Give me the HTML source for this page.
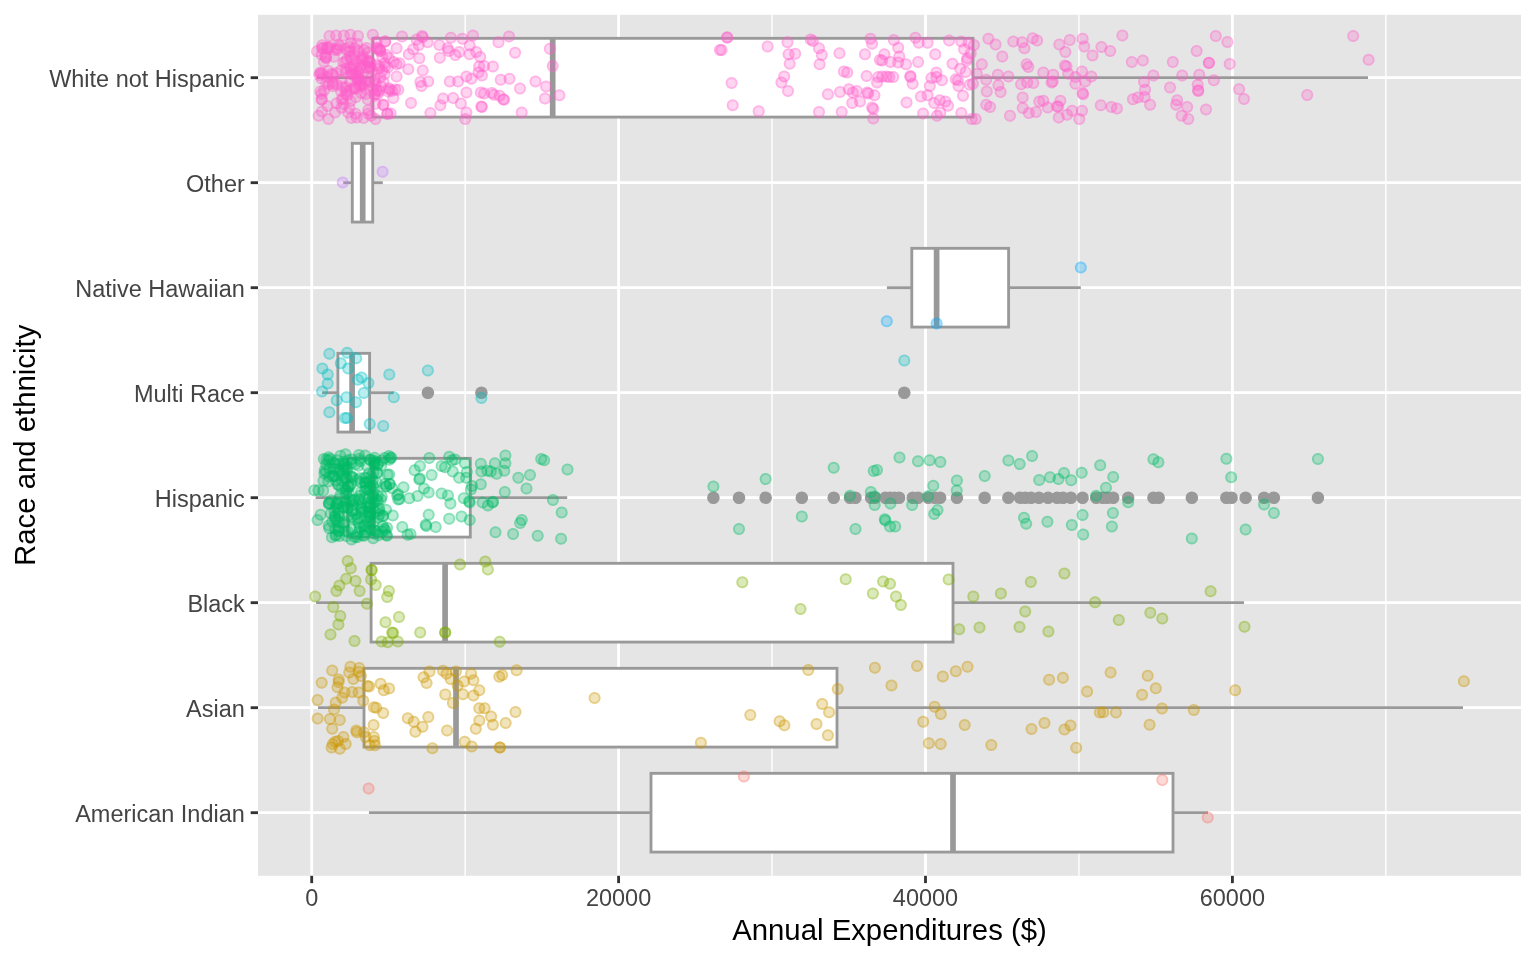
<!DOCTYPE html>
<html><head><meta charset="utf-8"><title>Annual Expenditures by Race and ethnicity</title>
<style>
html,body{margin:0;padding:0;background:#FFFFFF;width:1536px;height:960px;overflow:hidden}
svg{display:block;will-change:transform}
.t{font-family:"Liberation Sans",sans-serif;font-size:23.47px;fill:#444444}
.ti{font-family:"Liberation Sans",sans-serif;font-size:29.33px;fill:#000000}
</style></head><body>
<svg width="1536" height="960" viewBox="0 0 1536 960">
<rect x="0" y="0" width="1536" height="960" fill="#FFFFFF"/>
<rect x="258" y="14.8" width="1263" height="861.0" fill="#E5E5E5"/>
<line x1="465.15" y1="14.8" x2="465.15" y2="875.8" stroke="#FFFFFF" stroke-width="1.42"/>
<line x1="772.05" y1="14.8" x2="772.05" y2="875.8" stroke="#FFFFFF" stroke-width="1.42"/>
<line x1="1078.95" y1="14.8" x2="1078.95" y2="875.8" stroke="#FFFFFF" stroke-width="1.42"/>
<line x1="1385.85" y1="14.8" x2="1385.85" y2="875.8" stroke="#FFFFFF" stroke-width="1.42"/>
<line x1="311.70" y1="14.8" x2="311.70" y2="875.8" stroke="#FFFFFF" stroke-width="2.84"/>
<line x1="618.60" y1="14.8" x2="618.60" y2="875.8" stroke="#FFFFFF" stroke-width="2.84"/>
<line x1="925.50" y1="14.8" x2="925.50" y2="875.8" stroke="#FFFFFF" stroke-width="2.84"/>
<line x1="1232.40" y1="14.8" x2="1232.40" y2="875.8" stroke="#FFFFFF" stroke-width="2.84"/>
<line x1="258" y1="77.7" x2="1521" y2="77.7" stroke="#FFFFFF" stroke-width="2.84"/>
<line x1="258" y1="182.7" x2="1521" y2="182.7" stroke="#FFFFFF" stroke-width="2.84"/>
<line x1="258" y1="287.7" x2="1521" y2="287.7" stroke="#FFFFFF" stroke-width="2.84"/>
<line x1="258" y1="392.7" x2="1521" y2="392.7" stroke="#FFFFFF" stroke-width="2.84"/>
<line x1="258" y1="497.7" x2="1521" y2="497.7" stroke="#FFFFFF" stroke-width="2.84"/>
<line x1="258" y1="602.7" x2="1521" y2="602.7" stroke="#FFFFFF" stroke-width="2.84"/>
<line x1="258" y1="707.7" x2="1521" y2="707.7" stroke="#FFFFFF" stroke-width="2.84"/>
<line x1="258" y1="812.7" x2="1521" y2="812.7" stroke="#FFFFFF" stroke-width="2.84"/>
<line x1="316.7" y1="77.7" x2="372.9" y2="77.7" stroke="#999999" stroke-width="2.84"/>
<line x1="973.0" y1="77.7" x2="1368.0" y2="77.7" stroke="#999999" stroke-width="2.84"/>
<rect x="372.9" y="38.325" width="600.10" height="78.75" fill="#FFFFFF" stroke="#999999" stroke-width="2.84"/>
<line x1="552.7" y1="38.325" x2="552.7" y2="117.075" stroke="#999999" stroke-width="5.68"/>
<line x1="343.2" y1="182.7" x2="352.3" y2="182.7" stroke="#999999" stroke-width="2.84"/>
<line x1="372.7" y1="182.7" x2="382.8" y2="182.7" stroke="#999999" stroke-width="2.84"/>
<rect x="352.3" y="143.325" width="20.40" height="78.75" fill="#FFFFFF" stroke="#999999" stroke-width="2.84"/>
<line x1="362.7" y1="143.325" x2="362.7" y2="222.075" stroke="#999999" stroke-width="5.68"/>
<line x1="886.9" y1="287.7" x2="911.8" y2="287.7" stroke="#999999" stroke-width="2.84"/>
<line x1="1008.6" y1="287.7" x2="1080.8" y2="287.7" stroke="#999999" stroke-width="2.84"/>
<rect x="911.8" y="248.325" width="96.80" height="78.75" fill="#FFFFFF" stroke="#999999" stroke-width="2.84"/>
<line x1="936.6" y1="248.325" x2="936.6" y2="327.075" stroke="#999999" stroke-width="5.68"/>
<line x1="322.1" y1="392.7" x2="337.9" y2="392.7" stroke="#999999" stroke-width="2.84"/>
<line x1="369.6" y1="392.7" x2="393.75" y2="392.7" stroke="#999999" stroke-width="2.84"/>
<rect x="337.9" y="353.325" width="31.70" height="78.75" fill="#FFFFFF" stroke="#999999" stroke-width="2.84"/>
<line x1="352.1" y1="353.325" x2="352.1" y2="432.075" stroke="#999999" stroke-width="5.68"/>
<circle cx="427.9" cy="392.7" r="5.6" fill="#999999" stroke="#999999" stroke-width="1.4"/>
<circle cx="481.4" cy="392.7" r="5.6" fill="#999999" stroke="#999999" stroke-width="1.4"/>
<circle cx="904.3" cy="392.7" r="5.6" fill="#999999" stroke="#999999" stroke-width="1.4"/>
<line x1="315.6" y1="497.7" x2="347.9" y2="497.7" stroke="#999999" stroke-width="2.84"/>
<line x1="470.3" y1="497.7" x2="567.2" y2="497.7" stroke="#999999" stroke-width="2.84"/>
<rect x="347.9" y="458.325" width="122.40" height="78.75" fill="#FFFFFF" stroke="#999999" stroke-width="2.84"/>
<line x1="372.7" y1="458.325" x2="372.7" y2="537.075" stroke="#999999" stroke-width="5.68"/>
<circle cx="713.4" cy="497.7" r="5.6" fill="#999999" stroke="#999999" stroke-width="1.4"/>
<circle cx="739.0" cy="497.7" r="5.6" fill="#999999" stroke="#999999" stroke-width="1.4"/>
<circle cx="765.625" cy="497.7" r="5.6" fill="#999999" stroke="#999999" stroke-width="1.4"/>
<circle cx="801.8229166666666" cy="497.7" r="5.6" fill="#999999" stroke="#999999" stroke-width="1.4"/>
<circle cx="833.7239583333334" cy="497.7" r="5.6" fill="#999999" stroke="#999999" stroke-width="1.4"/>
<circle cx="850.0" cy="497.7" r="5.6" fill="#999999" stroke="#999999" stroke-width="1.4"/>
<circle cx="855.46875" cy="497.7" r="5.6" fill="#999999" stroke="#999999" stroke-width="1.4"/>
<circle cx="871.09375" cy="497.7" r="5.6" fill="#999999" stroke="#999999" stroke-width="1.4"/>
<circle cx="875.0" cy="497.7" r="5.6" fill="#999999" stroke="#999999" stroke-width="1.4"/>
<circle cx="885.4166666666667" cy="497.7" r="5.6" fill="#999999" stroke="#999999" stroke-width="1.4"/>
<circle cx="889.9739583333334" cy="497.7" r="5.6" fill="#999999" stroke="#999999" stroke-width="1.4"/>
<circle cx="894.53125" cy="497.7" r="5.6" fill="#999999" stroke="#999999" stroke-width="1.4"/>
<circle cx="899.0885416666667" cy="497.7" r="5.6" fill="#999999" stroke="#999999" stroke-width="1.4"/>
<circle cx="912.7604166666667" cy="497.7" r="5.6" fill="#999999" stroke="#999999" stroke-width="1.4"/>
<circle cx="917.96875" cy="497.7" r="5.6" fill="#999999" stroke="#999999" stroke-width="1.4"/>
<circle cx="928.3854166666667" cy="497.7" r="5.6" fill="#999999" stroke="#999999" stroke-width="1.4"/>
<circle cx="934.8958333333334" cy="497.7" r="5.6" fill="#999999" stroke="#999999" stroke-width="1.4"/>
<circle cx="940.1041666666667" cy="497.7" r="5.6" fill="#999999" stroke="#999999" stroke-width="1.4"/>
<circle cx="956.9270833333334" cy="497.7" r="5.6" fill="#999999" stroke="#999999" stroke-width="1.4"/>
<circle cx="984.6614583333334" cy="497.7" r="5.6" fill="#999999" stroke="#999999" stroke-width="1.4"/>
<circle cx="1008.359375" cy="497.7" r="5.6" fill="#999999" stroke="#999999" stroke-width="1.4"/>
<circle cx="1020.078125" cy="497.7" r="5.6" fill="#999999" stroke="#999999" stroke-width="1.4"/>
<circle cx="1025.2864583333333" cy="497.7" r="5.6" fill="#999999" stroke="#999999" stroke-width="1.4"/>
<circle cx="1031.1458333333333" cy="497.7" r="5.6" fill="#999999" stroke="#999999" stroke-width="1.4"/>
<circle cx="1038.9583333333333" cy="497.7" r="5.6" fill="#999999" stroke="#999999" stroke-width="1.4"/>
<circle cx="1048.0729166666667" cy="497.7" r="5.6" fill="#999999" stroke="#999999" stroke-width="1.4"/>
<circle cx="1057.1875" cy="497.7" r="5.6" fill="#999999" stroke="#999999" stroke-width="1.4"/>
<circle cx="1063.046875" cy="497.7" r="5.6" fill="#999999" stroke="#999999" stroke-width="1.4"/>
<circle cx="1070.859375" cy="497.7" r="5.6" fill="#999999" stroke="#999999" stroke-width="1.4"/>
<circle cx="1082.578125" cy="497.7" r="5.6" fill="#999999" stroke="#999999" stroke-width="1.4"/>
<circle cx="1096.25" cy="497.7" r="5.6" fill="#999999" stroke="#999999" stroke-width="1.4"/>
<circle cx="1102.7604166666667" cy="497.7" r="5.6" fill="#999999" stroke="#999999" stroke-width="1.4"/>
<circle cx="1107.3177083333333" cy="497.7" r="5.6" fill="#999999" stroke="#999999" stroke-width="1.4"/>
<circle cx="1113.1770833333333" cy="497.7" r="5.6" fill="#999999" stroke="#999999" stroke-width="1.4"/>
<circle cx="1128.1510416666667" cy="497.7" r="5.6" fill="#999999" stroke="#999999" stroke-width="1.4"/>
<circle cx="1153.4375" cy="497.7" r="5.6" fill="#999999" stroke="#999999" stroke-width="1.4"/>
<circle cx="1158.6458333333333" cy="497.7" r="5.6" fill="#999999" stroke="#999999" stroke-width="1.4"/>
<circle cx="1191.8489583333333" cy="497.7" r="5.6" fill="#999999" stroke="#999999" stroke-width="1.4"/>
<circle cx="1226.3541666666667" cy="497.7" r="5.6" fill="#999999" stroke="#999999" stroke-width="1.4"/>
<circle cx="1231.5625" cy="497.7" r="5.6" fill="#999999" stroke="#999999" stroke-width="1.4"/>
<circle cx="1245.625" cy="497.7" r="5.6" fill="#999999" stroke="#999999" stroke-width="1.4"/>
<circle cx="1264.1145833333333" cy="497.7" r="5.6" fill="#999999" stroke="#999999" stroke-width="1.4"/>
<circle cx="1273.8802083333333" cy="497.7" r="5.6" fill="#999999" stroke="#999999" stroke-width="1.4"/>
<circle cx="1317.890625" cy="497.7" r="5.6" fill="#999999" stroke="#999999" stroke-width="1.4"/>
<line x1="316.1" y1="602.7" x2="371.1" y2="602.7" stroke="#999999" stroke-width="2.84"/>
<line x1="953.0" y1="602.7" x2="1244.0" y2="602.7" stroke="#999999" stroke-width="2.84"/>
<rect x="371.1" y="563.325" width="581.90" height="78.75" fill="#FFFFFF" stroke="#999999" stroke-width="2.84"/>
<line x1="445.1" y1="563.325" x2="445.1" y2="642.075" stroke="#999999" stroke-width="5.68"/>
<line x1="318.0" y1="707.7" x2="364.0" y2="707.7" stroke="#999999" stroke-width="2.84"/>
<line x1="837.0" y1="707.7" x2="1463.0" y2="707.7" stroke="#999999" stroke-width="2.84"/>
<rect x="364.0" y="668.325" width="473.00" height="78.75" fill="#FFFFFF" stroke="#999999" stroke-width="2.84"/>
<line x1="456.0" y1="668.325" x2="456.0" y2="747.075" stroke="#999999" stroke-width="5.68"/>
<line x1="369.0" y1="812.7" x2="651.0" y2="812.7" stroke="#999999" stroke-width="2.84"/>
<line x1="1173.0" y1="812.7" x2="1208.0" y2="812.7" stroke="#999999" stroke-width="2.84"/>
<rect x="651.0" y="773.325" width="522.00" height="78.75" fill="#FFFFFF" stroke="#999999" stroke-width="2.84"/>
<line x1="953.0" y1="773.325" x2="953.0" y2="852.075" stroke="#999999" stroke-width="5.68"/>
<g fill="#FF61CC" fill-opacity="0.27">
<circle cx="329.5" cy="35.9" r="6.0"/>
<circle cx="336.1" cy="35.4" r="6.0"/>
<circle cx="343.8" cy="35.4" r="6.0"/>
<circle cx="350.3" cy="34.8" r="6.0"/>
<circle cx="358.0" cy="35.9" r="6.0"/>
<circle cx="372.8" cy="34.8" r="6.0"/>
<circle cx="317.0" cy="51.3" r="6.0"/>
<circle cx="321.9" cy="48.0" r="6.0"/>
<circle cx="329.5" cy="46.9" r="6.0"/>
<circle cx="338.3" cy="44.7" r="6.0"/>
<circle cx="349.2" cy="46.9" r="6.0"/>
<circle cx="354.7" cy="48.0" r="6.0"/>
<circle cx="367.8" cy="52.4" r="6.0"/>
<circle cx="326.3" cy="57.8" r="6.0"/>
<circle cx="333.9" cy="56.7" r="6.0"/>
<circle cx="350.3" cy="56.7" r="6.0"/>
<circle cx="361.3" cy="57.8" r="6.0"/>
<circle cx="367.8" cy="62.2" r="6.0"/>
<circle cx="320.8" cy="73.1" r="6.0"/>
<circle cx="328.4" cy="71.0" r="6.0"/>
<circle cx="336.1" cy="73.1" r="6.0"/>
<circle cx="346.0" cy="68.8" r="6.0"/>
<circle cx="353.6" cy="66.6" r="6.0"/>
<circle cx="361.3" cy="65.5" r="6.0"/>
<circle cx="368.9" cy="68.8" r="6.0"/>
<circle cx="326.3" cy="83.0" r="6.0"/>
<circle cx="332.8" cy="81.9" r="6.0"/>
<circle cx="341.6" cy="79.7" r="6.0"/>
<circle cx="350.3" cy="81.9" r="6.0"/>
<circle cx="358.0" cy="79.7" r="6.0"/>
<circle cx="365.6" cy="80.8" r="6.0"/>
<circle cx="374.4" cy="80.8" r="6.0"/>
<circle cx="324.1" cy="90.6" r="6.0"/>
<circle cx="332.8" cy="86.3" r="6.0"/>
<circle cx="346.0" cy="87.4" r="6.0"/>
<circle cx="354.7" cy="88.5" r="6.0"/>
<circle cx="365.6" cy="88.5" r="6.0"/>
<circle cx="376.6" cy="90.6" r="6.0"/>
<circle cx="321.9" cy="99.4" r="6.0"/>
<circle cx="341.6" cy="99.4" r="6.0"/>
<circle cx="355.8" cy="97.2" r="6.0"/>
<circle cx="367.8" cy="99.4" r="6.0"/>
<circle cx="375.5" cy="103.8" r="6.0"/>
<circle cx="327.4" cy="106.0" r="6.0"/>
<circle cx="318.6" cy="115.8" r="6.0"/>
<circle cx="321.9" cy="111.4" r="6.0"/>
<circle cx="328.4" cy="119.1" r="6.0"/>
<circle cx="335.0" cy="112.5" r="6.0"/>
<circle cx="348.1" cy="112.5" r="6.0"/>
<circle cx="351.4" cy="118.0" r="6.0"/>
<circle cx="363.5" cy="118.0" r="6.0"/>
<circle cx="371.1" cy="115.8" r="6.0"/>
<circle cx="375.5" cy="119.1" r="6.0"/>
<circle cx="385.3" cy="41.4" r="6.0"/>
<circle cx="378.8" cy="49.1" r="6.0"/>
<circle cx="383.2" cy="104.9" r="6.0"/>
<circle cx="387.5" cy="113.6" r="6.0"/>
<circle cx="378.8" cy="68.8" r="6.0"/>
<circle cx="385.3" cy="66.6" r="6.0"/>
<circle cx="385.1" cy="41.4" r="6.0"/>
<circle cx="376.9" cy="48.5" r="6.0"/>
<circle cx="380.1" cy="51.2" r="6.0"/>
<circle cx="382.3" cy="56.7" r="6.0"/>
<circle cx="388.9" cy="57.8" r="6.0"/>
<circle cx="384.5" cy="63.3" r="6.0"/>
<circle cx="379.0" cy="66.5" r="6.0"/>
<circle cx="387.8" cy="67.6" r="6.0"/>
<circle cx="382.3" cy="70.9" r="6.0"/>
<circle cx="384.5" cy="74.2" r="6.0"/>
<circle cx="380.1" cy="77.5" r="6.0"/>
<circle cx="374.7" cy="79.6" r="6.0"/>
<circle cx="383.4" cy="81.8" r="6.0"/>
<circle cx="381.2" cy="86.2" r="6.0"/>
<circle cx="376.9" cy="90.6" r="6.0"/>
<circle cx="378.0" cy="93.9" r="6.0"/>
<circle cx="383.4" cy="104.8" r="6.0"/>
<circle cx="387.2" cy="114.1" r="6.0"/>
<circle cx="337.4" cy="50.1" r="6.0"/>
<circle cx="357.1" cy="43.8" r="6.0"/>
<circle cx="350.2" cy="67.3" r="6.0"/>
<circle cx="321.5" cy="78.6" r="6.0"/>
<circle cx="320.2" cy="72.7" r="6.0"/>
<circle cx="322.2" cy="45.3" r="6.0"/>
<circle cx="343.5" cy="104.1" r="6.0"/>
<circle cx="325.4" cy="55.9" r="6.0"/>
<circle cx="355.6" cy="113.8" r="6.0"/>
<circle cx="352.6" cy="69.7" r="6.0"/>
<circle cx="376.6" cy="41.7" r="6.0"/>
<circle cx="369.5" cy="61.2" r="6.0"/>
<circle cx="326.7" cy="47.4" r="6.0"/>
<circle cx="336.5" cy="103.3" r="6.0"/>
<circle cx="328.8" cy="84.5" r="6.0"/>
<circle cx="356.3" cy="67.8" r="6.0"/>
<circle cx="350.9" cy="43.0" r="6.0"/>
<circle cx="321.6" cy="54.5" r="6.0"/>
<circle cx="358.8" cy="72.2" r="6.0"/>
<circle cx="336.8" cy="84.8" r="6.0"/>
<circle cx="345.2" cy="62.0" r="6.0"/>
<circle cx="365.7" cy="93.9" r="6.0"/>
<circle cx="332.6" cy="84.0" r="6.0"/>
<circle cx="349.5" cy="108.0" r="6.0"/>
<circle cx="361.8" cy="61.0" r="6.0"/>
<circle cx="376.8" cy="47.4" r="6.0"/>
<circle cx="343.1" cy="98.6" r="6.0"/>
<circle cx="327.1" cy="77.1" r="6.0"/>
<circle cx="320.4" cy="91.5" r="6.0"/>
<circle cx="363.9" cy="83.8" r="6.0"/>
<circle cx="370.5" cy="63.1" r="6.0"/>
<circle cx="359.7" cy="85.5" r="6.0"/>
<circle cx="352.8" cy="74.5" r="6.0"/>
<circle cx="368.4" cy="113.6" r="6.0"/>
<circle cx="346.4" cy="91.1" r="6.0"/>
<circle cx="321.6" cy="94.1" r="6.0"/>
<circle cx="356.8" cy="117.4" r="6.0"/>
<circle cx="367.3" cy="60.8" r="6.0"/>
<circle cx="341.1" cy="91.5" r="6.0"/>
<circle cx="319.4" cy="74.9" r="6.0"/>
<circle cx="328.1" cy="47.4" r="6.0"/>
<circle cx="321.5" cy="99.5" r="6.0"/>
<circle cx="325.8" cy="57.8" r="6.0"/>
<circle cx="341.5" cy="107.7" r="6.0"/>
<circle cx="322.8" cy="73.9" r="6.0"/>
<circle cx="355.8" cy="74.9" r="6.0"/>
<circle cx="372.3" cy="70.4" r="6.0"/>
<circle cx="357.8" cy="76.2" r="6.0"/>
<circle cx="346.5" cy="72.6" r="6.0"/>
<circle cx="362.0" cy="86.1" r="6.0"/>
<circle cx="343.3" cy="62.6" r="6.0"/>
<circle cx="343.2" cy="86.9" r="6.0"/>
<circle cx="364.3" cy="50.0" r="6.0"/>
<circle cx="374.4" cy="94.3" r="6.0"/>
<circle cx="362.9" cy="77.5" r="6.0"/>
<circle cx="345.5" cy="48.7" r="6.0"/>
<circle cx="358.5" cy="50.9" r="6.0"/>
<circle cx="346.7" cy="59.6" r="6.0"/>
<circle cx="341.1" cy="70.3" r="6.0"/>
<circle cx="355.4" cy="88.4" r="6.0"/>
<circle cx="358.2" cy="78.7" r="6.0"/>
<circle cx="357.5" cy="79.8" r="6.0"/>
<circle cx="356.0" cy="61.4" r="6.0"/>
<circle cx="374.9" cy="95.8" r="6.0"/>
<circle cx="369.4" cy="82.0" r="6.0"/>
<circle cx="351.0" cy="59.0" r="6.0"/>
<circle cx="350.1" cy="51.4" r="6.0"/>
<circle cx="366.8" cy="67.2" r="6.0"/>
<circle cx="369.6" cy="66.6" r="6.0"/>
<circle cx="373.5" cy="88.7" r="6.0"/>
<circle cx="402.0" cy="36.6" r="6.0"/>
<circle cx="416.6" cy="39.4" r="6.0"/>
<circle cx="422.1" cy="36.1" r="6.0"/>
<circle cx="422.7" cy="37.2" r="6.0"/>
<circle cx="427.6" cy="42.2" r="6.0"/>
<circle cx="450.9" cy="37.7" r="6.0"/>
<circle cx="462.5" cy="38.8" r="6.0"/>
<circle cx="473.0" cy="35.5" r="6.0"/>
<circle cx="498.5" cy="42.2" r="6.0"/>
<circle cx="509.0" cy="36.6" r="6.0"/>
<circle cx="396.6" cy="48.2" r="6.0"/>
<circle cx="408.8" cy="54.3" r="6.0"/>
<circle cx="413.2" cy="49.3" r="6.0"/>
<circle cx="418.8" cy="44.9" r="6.0"/>
<circle cx="419.3" cy="58.2" r="6.0"/>
<circle cx="439.3" cy="44.9" r="6.0"/>
<circle cx="439.8" cy="57.7" r="6.0"/>
<circle cx="447.6" cy="48.2" r="6.0"/>
<circle cx="448.7" cy="51.0" r="6.0"/>
<circle cx="455.3" cy="54.9" r="6.0"/>
<circle cx="459.2" cy="52.1" r="6.0"/>
<circle cx="469.7" cy="45.5" r="6.0"/>
<circle cx="469.7" cy="54.3" r="6.0"/>
<circle cx="476.3" cy="52.1" r="6.0"/>
<circle cx="480.2" cy="57.1" r="6.0"/>
<circle cx="515.1" cy="52.7" r="6.0"/>
<circle cx="549.9" cy="48.8" r="6.0"/>
<circle cx="396.6" cy="64.3" r="6.0"/>
<circle cx="408.3" cy="69.3" r="6.0"/>
<circle cx="422.7" cy="70.4" r="6.0"/>
<circle cx="479.1" cy="66.5" r="6.0"/>
<circle cx="484.1" cy="66.0" r="6.0"/>
<circle cx="492.9" cy="66.5" r="6.0"/>
<circle cx="552.7" cy="66.0" r="6.0"/>
<circle cx="396.6" cy="76.5" r="6.0"/>
<circle cx="420.4" cy="82.0" r="6.0"/>
<circle cx="428.2" cy="81.4" r="6.0"/>
<circle cx="421.5" cy="85.9" r="6.0"/>
<circle cx="449.8" cy="81.4" r="6.0"/>
<circle cx="458.1" cy="81.4" r="6.0"/>
<circle cx="466.4" cy="76.5" r="6.0"/>
<circle cx="471.4" cy="78.7" r="6.0"/>
<circle cx="478.5" cy="72.6" r="6.0"/>
<circle cx="481.9" cy="75.4" r="6.0"/>
<circle cx="500.7" cy="79.8" r="6.0"/>
<circle cx="509.5" cy="78.7" r="6.0"/>
<circle cx="535.5" cy="81.4" r="6.0"/>
<circle cx="546.1" cy="86.4" r="6.0"/>
<circle cx="520.0" cy="88.6" r="6.0"/>
<circle cx="393.3" cy="98.0" r="6.0"/>
<circle cx="411.0" cy="103.0" r="6.0"/>
<circle cx="443.1" cy="98.6" r="6.0"/>
<circle cx="440.4" cy="105.2" r="6.0"/>
<circle cx="453.1" cy="98.0" r="6.0"/>
<circle cx="460.8" cy="103.6" r="6.0"/>
<circle cx="466.4" cy="92.5" r="6.0"/>
<circle cx="480.8" cy="92.5" r="6.0"/>
<circle cx="484.1" cy="93.6" r="6.0"/>
<circle cx="491.8" cy="93.1" r="6.0"/>
<circle cx="494.0" cy="94.7" r="6.0"/>
<circle cx="499.6" cy="95.8" r="6.0"/>
<circle cx="503.4" cy="99.2" r="6.0"/>
<circle cx="504.0" cy="99.7" r="6.0"/>
<circle cx="481.3" cy="106.4" r="6.0"/>
<circle cx="481.9" cy="106.9" r="6.0"/>
<circle cx="545.0" cy="98.6" r="6.0"/>
<circle cx="390.6" cy="113.5" r="6.0"/>
<circle cx="430.4" cy="113.0" r="6.0"/>
<circle cx="466.4" cy="112.4" r="6.0"/>
<circle cx="465.3" cy="119.1" r="6.0"/>
<circle cx="521.7" cy="112.4" r="6.0"/>
<circle cx="559.4" cy="95.3" r="6.0"/>
<circle cx="719.9" cy="49.9" r="6.0"/>
<circle cx="727.2" cy="37.2" r="6.0"/>
<circle cx="727.2" cy="37.7" r="6.0"/>
<circle cx="721.6" cy="49.9" r="6.0"/>
<circle cx="767.6" cy="46.6" r="6.0"/>
<circle cx="787.5" cy="42.2" r="6.0"/>
<circle cx="788.6" cy="54.3" r="6.0"/>
<circle cx="795.2" cy="53.8" r="6.0"/>
<circle cx="789.7" cy="63.7" r="6.0"/>
<circle cx="810.7" cy="39.4" r="6.0"/>
<circle cx="812.9" cy="41.0" r="6.0"/>
<circle cx="819.0" cy="48.2" r="6.0"/>
<circle cx="821.8" cy="54.9" r="6.0"/>
<circle cx="819.6" cy="64.3" r="6.0"/>
<circle cx="839.5" cy="53.2" r="6.0"/>
<circle cx="865.0" cy="54.3" r="6.0"/>
<circle cx="870.5" cy="38.8" r="6.0"/>
<circle cx="872.1" cy="43.8" r="6.0"/>
<circle cx="879.9" cy="59.9" r="6.0"/>
<circle cx="731.6" cy="83.1" r="6.0"/>
<circle cx="784.2" cy="76.5" r="6.0"/>
<circle cx="781.4" cy="82.6" r="6.0"/>
<circle cx="788.0" cy="90.9" r="6.0"/>
<circle cx="843.9" cy="71.5" r="6.0"/>
<circle cx="847.2" cy="72.6" r="6.0"/>
<circle cx="866.6" cy="75.9" r="6.0"/>
<circle cx="878.2" cy="77.0" r="6.0"/>
<circle cx="877.1" cy="82.6" r="6.0"/>
<circle cx="827.9" cy="94.2" r="6.0"/>
<circle cx="840.0" cy="92.0" r="6.0"/>
<circle cx="848.9" cy="89.2" r="6.0"/>
<circle cx="852.8" cy="92.5" r="6.0"/>
<circle cx="856.7" cy="90.9" r="6.0"/>
<circle cx="860.0" cy="101.4" r="6.0"/>
<circle cx="852.2" cy="103.0" r="6.0"/>
<circle cx="867.2" cy="92.5" r="6.0"/>
<circle cx="868.3" cy="93.6" r="6.0"/>
<circle cx="874.4" cy="95.3" r="6.0"/>
<circle cx="732.7" cy="105.2" r="6.0"/>
<circle cx="758.7" cy="111.3" r="6.0"/>
<circle cx="819.0" cy="111.9" r="6.0"/>
<circle cx="841.7" cy="111.9" r="6.0"/>
<circle cx="872.1" cy="107.5" r="6.0"/>
<circle cx="873.3" cy="109.1" r="6.0"/>
<circle cx="873.3" cy="118.5" r="6.0"/>
<circle cx="893.8" cy="39.9" r="6.0"/>
<circle cx="898.2" cy="47.7" r="6.0"/>
<circle cx="884.4" cy="54.3" r="6.0"/>
<circle cx="882.2" cy="60.4" r="6.0"/>
<circle cx="890.5" cy="62.1" r="6.0"/>
<circle cx="899.3" cy="56.5" r="6.0"/>
<circle cx="898.2" cy="62.6" r="6.0"/>
<circle cx="906.0" cy="64.3" r="6.0"/>
<circle cx="915.4" cy="37.7" r="6.0"/>
<circle cx="918.7" cy="42.7" r="6.0"/>
<circle cx="927.6" cy="42.7" r="6.0"/>
<circle cx="935.3" cy="54.3" r="6.0"/>
<circle cx="918.1" cy="62.1" r="6.0"/>
<circle cx="949.1" cy="40.5" r="6.0"/>
<circle cx="961.3" cy="41.6" r="6.0"/>
<circle cx="964.1" cy="49.3" r="6.0"/>
<circle cx="968.5" cy="42.7" r="6.0"/>
<circle cx="974.0" cy="44.9" r="6.0"/>
<circle cx="970.7" cy="53.2" r="6.0"/>
<circle cx="967.4" cy="58.2" r="6.0"/>
<circle cx="966.8" cy="60.4" r="6.0"/>
<circle cx="952.5" cy="63.7" r="6.0"/>
<circle cx="960.2" cy="68.7" r="6.0"/>
<circle cx="965.7" cy="72.0" r="6.0"/>
<circle cx="882.2" cy="76.5" r="6.0"/>
<circle cx="886.6" cy="76.5" r="6.0"/>
<circle cx="889.4" cy="77.0" r="6.0"/>
<circle cx="893.2" cy="77.0" r="6.0"/>
<circle cx="910.4" cy="75.9" r="6.0"/>
<circle cx="910.4" cy="77.0" r="6.0"/>
<circle cx="912.6" cy="83.7" r="6.0"/>
<circle cx="936.4" cy="72.6" r="6.0"/>
<circle cx="931.4" cy="78.1" r="6.0"/>
<circle cx="936.4" cy="77.0" r="6.0"/>
<circle cx="941.9" cy="80.3" r="6.0"/>
<circle cx="929.8" cy="85.9" r="6.0"/>
<circle cx="955.8" cy="79.2" r="6.0"/>
<circle cx="958.5" cy="85.9" r="6.0"/>
<circle cx="958.0" cy="80.3" r="6.0"/>
<circle cx="969.6" cy="84.8" r="6.0"/>
<circle cx="972.9" cy="83.7" r="6.0"/>
<circle cx="920.9" cy="96.4" r="6.0"/>
<circle cx="927.6" cy="95.3" r="6.0"/>
<circle cx="906.5" cy="102.5" r="6.0"/>
<circle cx="934.2" cy="103.0" r="6.0"/>
<circle cx="939.7" cy="100.3" r="6.0"/>
<circle cx="945.3" cy="101.4" r="6.0"/>
<circle cx="948.0" cy="105.8" r="6.0"/>
<circle cx="963.0" cy="95.8" r="6.0"/>
<circle cx="923.1" cy="113.5" r="6.0"/>
<circle cx="937.0" cy="115.8" r="6.0"/>
<circle cx="940.3" cy="112.4" r="6.0"/>
<circle cx="961.3" cy="113.0" r="6.0"/>
<circle cx="971.8" cy="119.1" r="6.0"/>
<circle cx="975.7" cy="119.1" r="6.0"/>
<circle cx="988.4" cy="38.8" r="6.0"/>
<circle cx="995.6" cy="44.4" r="6.0"/>
<circle cx="1013.3" cy="41.6" r="6.0"/>
<circle cx="1022.2" cy="42.2" r="6.0"/>
<circle cx="1024.4" cy="48.2" r="6.0"/>
<circle cx="1032.7" cy="38.3" r="6.0"/>
<circle cx="1037.1" cy="40.5" r="6.0"/>
<circle cx="1002.3" cy="56.5" r="6.0"/>
<circle cx="981.8" cy="64.3" r="6.0"/>
<circle cx="1026.6" cy="64.3" r="6.0"/>
<circle cx="1028.3" cy="67.1" r="6.0"/>
<circle cx="976.8" cy="73.7" r="6.0"/>
<circle cx="986.2" cy="79.8" r="6.0"/>
<circle cx="997.8" cy="74.8" r="6.0"/>
<circle cx="1008.4" cy="76.5" r="6.0"/>
<circle cx="998.4" cy="85.3" r="6.0"/>
<circle cx="1000.6" cy="92.0" r="6.0"/>
<circle cx="986.8" cy="91.4" r="6.0"/>
<circle cx="1021.1" cy="84.2" r="6.0"/>
<circle cx="1027.2" cy="82.6" r="6.0"/>
<circle cx="1033.3" cy="83.1" r="6.0"/>
<circle cx="1022.7" cy="97.5" r="6.0"/>
<circle cx="986.2" cy="104.7" r="6.0"/>
<circle cx="990.1" cy="106.9" r="6.0"/>
<circle cx="1022.7" cy="108.0" r="6.0"/>
<circle cx="1028.8" cy="113.0" r="6.0"/>
<circle cx="1036.0" cy="111.9" r="6.0"/>
<circle cx="1010.0" cy="115.8" r="6.0"/>
<circle cx="1039.3" cy="101.4" r="6.0"/>
<circle cx="1059.3" cy="44.4" r="6.0"/>
<circle cx="1069.8" cy="39.9" r="6.0"/>
<circle cx="1065.4" cy="52.1" r="6.0"/>
<circle cx="1082.6" cy="38.8" r="6.0"/>
<circle cx="1084.2" cy="46.6" r="6.0"/>
<circle cx="1092.5" cy="55.4" r="6.0"/>
<circle cx="1101.4" cy="47.1" r="6.0"/>
<circle cx="1110.2" cy="51.0" r="6.0"/>
<circle cx="1122.4" cy="35.5" r="6.0"/>
<circle cx="1131.8" cy="62.1" r="6.0"/>
<circle cx="1142.9" cy="60.4" r="6.0"/>
<circle cx="1172.8" cy="62.1" r="6.0"/>
<circle cx="1196.6" cy="51.0" r="6.0"/>
<circle cx="1043.3" cy="72.6" r="6.0"/>
<circle cx="1053.2" cy="74.8" r="6.0"/>
<circle cx="1052.7" cy="81.4" r="6.0"/>
<circle cx="1051.6" cy="82.6" r="6.0"/>
<circle cx="1064.9" cy="65.4" r="6.0"/>
<circle cx="1066.5" cy="66.5" r="6.0"/>
<circle cx="1068.2" cy="73.7" r="6.0"/>
<circle cx="1075.4" cy="77.0" r="6.0"/>
<circle cx="1075.4" cy="83.7" r="6.0"/>
<circle cx="1082.0" cy="71.5" r="6.0"/>
<circle cx="1085.3" cy="81.4" r="6.0"/>
<circle cx="1091.4" cy="76.5" r="6.0"/>
<circle cx="1082.6" cy="93.1" r="6.0"/>
<circle cx="1083.1" cy="94.2" r="6.0"/>
<circle cx="1153.4" cy="75.4" r="6.0"/>
<circle cx="1144.0" cy="82.0" r="6.0"/>
<circle cx="1145.1" cy="89.7" r="6.0"/>
<circle cx="1170.0" cy="87.5" r="6.0"/>
<circle cx="1182.2" cy="75.4" r="6.0"/>
<circle cx="1199.3" cy="74.8" r="6.0"/>
<circle cx="1197.7" cy="84.8" r="6.0"/>
<circle cx="1198.2" cy="90.3" r="6.0"/>
<circle cx="1198.2" cy="90.9" r="6.0"/>
<circle cx="1043.3" cy="100.8" r="6.0"/>
<circle cx="1047.7" cy="107.5" r="6.0"/>
<circle cx="1057.1" cy="106.4" r="6.0"/>
<circle cx="1060.4" cy="100.8" r="6.0"/>
<circle cx="1058.2" cy="106.4" r="6.0"/>
<circle cx="1072.1" cy="110.8" r="6.0"/>
<circle cx="1067.1" cy="114.7" r="6.0"/>
<circle cx="1058.8" cy="117.4" r="6.0"/>
<circle cx="1082.0" cy="110.8" r="6.0"/>
<circle cx="1079.3" cy="119.1" r="6.0"/>
<circle cx="1100.8" cy="105.2" r="6.0"/>
<circle cx="1111.4" cy="106.9" r="6.0"/>
<circle cx="1116.9" cy="108.6" r="6.0"/>
<circle cx="1132.9" cy="99.2" r="6.0"/>
<circle cx="1137.9" cy="97.5" r="6.0"/>
<circle cx="1144.6" cy="96.9" r="6.0"/>
<circle cx="1150.1" cy="104.7" r="6.0"/>
<circle cx="1177.2" cy="100.3" r="6.0"/>
<circle cx="1176.1" cy="104.7" r="6.0"/>
<circle cx="1187.2" cy="106.9" r="6.0"/>
<circle cx="1181.6" cy="115.8" r="6.0"/>
<circle cx="1188.3" cy="119.1" r="6.0"/>
<circle cx="1215.8" cy="35.9" r="6.0"/>
<circle cx="1227.4" cy="42.1" r="6.0"/>
<circle cx="1208.9" cy="62.7" r="6.0"/>
<circle cx="1208.9" cy="63.0" r="6.0"/>
<circle cx="1229.7" cy="64.0" r="6.0"/>
<circle cx="1213.8" cy="80.2" r="6.0"/>
<circle cx="1239.1" cy="89.3" r="6.0"/>
<circle cx="1244.0" cy="99.0" r="6.0"/>
<circle cx="1307.2" cy="95.1" r="6.0"/>
<circle cx="1353.2" cy="35.9" r="6.0"/>
<circle cx="1368.6" cy="59.8" r="6.0"/>
<circle cx="1206.0" cy="109.6" r="6.0"/>
<circle cx="368.2" cy="110.3" r="6.0"/>
<circle cx="366.6" cy="48.0" r="6.0"/>
<circle cx="351.6" cy="72.5" r="6.0"/>
<circle cx="348.5" cy="51.4" r="6.0"/>
<circle cx="331.6" cy="74.0" r="6.0"/>
<circle cx="333.1" cy="74.8" r="6.0"/>
<circle cx="323.2" cy="48.2" r="6.0"/>
<circle cx="357.5" cy="72.3" r="6.0"/>
<circle cx="347.6" cy="94.9" r="6.0"/>
<circle cx="339.9" cy="46.1" r="6.0"/>
<circle cx="361.2" cy="84.4" r="6.0"/>
<circle cx="354.9" cy="86.7" r="6.0"/>
<circle cx="370.5" cy="68.1" r="6.0"/>
<circle cx="360.0" cy="68.5" r="6.0"/>
<circle cx="350.6" cy="89.6" r="6.0"/>
<circle cx="337.7" cy="48.2" r="6.0"/>
<circle cx="345.7" cy="93.7" r="6.0"/>
<circle cx="351.5" cy="74.2" r="6.0"/>
<circle cx="354.1" cy="55.1" r="6.0"/>
<circle cx="362.8" cy="56.1" r="6.0"/>
<circle cx="327.7" cy="49.1" r="6.0"/>
<circle cx="323.9" cy="61.8" r="6.0"/>
<circle cx="350.6" cy="101.1" r="6.0"/>
<circle cx="360.9" cy="81.5" r="6.0"/>
<circle cx="334.9" cy="49.7" r="6.0"/>
<circle cx="361.2" cy="92.9" r="6.0"/>
<circle cx="363.4" cy="59.1" r="6.0"/>
<circle cx="388.6" cy="88.3" r="6.0"/>
<circle cx="389.8" cy="89.5" r="6.0"/>
<circle cx="379.2" cy="90.9" r="6.0"/>
<circle cx="376.4" cy="65.1" r="6.0"/>
<circle cx="375.6" cy="83.2" r="6.0"/>
<circle cx="392.2" cy="90.8" r="6.0"/>
<circle cx="395.1" cy="89.6" r="6.0"/>
<circle cx="388.5" cy="91.5" r="6.0"/>
<circle cx="393.7" cy="61.9" r="6.0"/>
<circle cx="399.4" cy="63.3" r="6.0"/>
<circle cx="379.8" cy="49.5" r="6.0"/>
<circle cx="386.6" cy="55.0" r="6.0"/>
<circle cx="398.3" cy="89.7" r="6.0"/>
<circle cx="380.4" cy="50.8" r="6.0"/>
</g>
<g fill="none" stroke="#FF61CC" stroke-opacity="0.27" stroke-width="2.0">
<circle cx="329.5" cy="35.9" r="5.00"/>
<circle cx="336.1" cy="35.4" r="5.00"/>
<circle cx="343.8" cy="35.4" r="5.00"/>
<circle cx="350.3" cy="34.8" r="5.00"/>
<circle cx="358.0" cy="35.9" r="5.00"/>
<circle cx="372.8" cy="34.8" r="5.00"/>
<circle cx="317.0" cy="51.3" r="5.00"/>
<circle cx="321.9" cy="48.0" r="5.00"/>
<circle cx="329.5" cy="46.9" r="5.00"/>
<circle cx="338.3" cy="44.7" r="5.00"/>
<circle cx="349.2" cy="46.9" r="5.00"/>
<circle cx="354.7" cy="48.0" r="5.00"/>
<circle cx="367.8" cy="52.4" r="5.00"/>
<circle cx="326.3" cy="57.8" r="5.00"/>
<circle cx="333.9" cy="56.7" r="5.00"/>
<circle cx="350.3" cy="56.7" r="5.00"/>
<circle cx="361.3" cy="57.8" r="5.00"/>
<circle cx="367.8" cy="62.2" r="5.00"/>
<circle cx="320.8" cy="73.1" r="5.00"/>
<circle cx="328.4" cy="71.0" r="5.00"/>
<circle cx="336.1" cy="73.1" r="5.00"/>
<circle cx="346.0" cy="68.8" r="5.00"/>
<circle cx="353.6" cy="66.6" r="5.00"/>
<circle cx="361.3" cy="65.5" r="5.00"/>
<circle cx="368.9" cy="68.8" r="5.00"/>
<circle cx="326.3" cy="83.0" r="5.00"/>
<circle cx="332.8" cy="81.9" r="5.00"/>
<circle cx="341.6" cy="79.7" r="5.00"/>
<circle cx="350.3" cy="81.9" r="5.00"/>
<circle cx="358.0" cy="79.7" r="5.00"/>
<circle cx="365.6" cy="80.8" r="5.00"/>
<circle cx="374.4" cy="80.8" r="5.00"/>
<circle cx="324.1" cy="90.6" r="5.00"/>
<circle cx="332.8" cy="86.3" r="5.00"/>
<circle cx="346.0" cy="87.4" r="5.00"/>
<circle cx="354.7" cy="88.5" r="5.00"/>
<circle cx="365.6" cy="88.5" r="5.00"/>
<circle cx="376.6" cy="90.6" r="5.00"/>
<circle cx="321.9" cy="99.4" r="5.00"/>
<circle cx="341.6" cy="99.4" r="5.00"/>
<circle cx="355.8" cy="97.2" r="5.00"/>
<circle cx="367.8" cy="99.4" r="5.00"/>
<circle cx="375.5" cy="103.8" r="5.00"/>
<circle cx="327.4" cy="106.0" r="5.00"/>
<circle cx="318.6" cy="115.8" r="5.00"/>
<circle cx="321.9" cy="111.4" r="5.00"/>
<circle cx="328.4" cy="119.1" r="5.00"/>
<circle cx="335.0" cy="112.5" r="5.00"/>
<circle cx="348.1" cy="112.5" r="5.00"/>
<circle cx="351.4" cy="118.0" r="5.00"/>
<circle cx="363.5" cy="118.0" r="5.00"/>
<circle cx="371.1" cy="115.8" r="5.00"/>
<circle cx="375.5" cy="119.1" r="5.00"/>
<circle cx="385.3" cy="41.4" r="5.00"/>
<circle cx="378.8" cy="49.1" r="5.00"/>
<circle cx="383.2" cy="104.9" r="5.00"/>
<circle cx="387.5" cy="113.6" r="5.00"/>
<circle cx="378.8" cy="68.8" r="5.00"/>
<circle cx="385.3" cy="66.6" r="5.00"/>
<circle cx="385.1" cy="41.4" r="5.00"/>
<circle cx="376.9" cy="48.5" r="5.00"/>
<circle cx="380.1" cy="51.2" r="5.00"/>
<circle cx="382.3" cy="56.7" r="5.00"/>
<circle cx="388.9" cy="57.8" r="5.00"/>
<circle cx="384.5" cy="63.3" r="5.00"/>
<circle cx="379.0" cy="66.5" r="5.00"/>
<circle cx="387.8" cy="67.6" r="5.00"/>
<circle cx="382.3" cy="70.9" r="5.00"/>
<circle cx="384.5" cy="74.2" r="5.00"/>
<circle cx="380.1" cy="77.5" r="5.00"/>
<circle cx="374.7" cy="79.6" r="5.00"/>
<circle cx="383.4" cy="81.8" r="5.00"/>
<circle cx="381.2" cy="86.2" r="5.00"/>
<circle cx="376.9" cy="90.6" r="5.00"/>
<circle cx="378.0" cy="93.9" r="5.00"/>
<circle cx="383.4" cy="104.8" r="5.00"/>
<circle cx="387.2" cy="114.1" r="5.00"/>
<circle cx="337.4" cy="50.1" r="5.00"/>
<circle cx="357.1" cy="43.8" r="5.00"/>
<circle cx="350.2" cy="67.3" r="5.00"/>
<circle cx="321.5" cy="78.6" r="5.00"/>
<circle cx="320.2" cy="72.7" r="5.00"/>
<circle cx="322.2" cy="45.3" r="5.00"/>
<circle cx="343.5" cy="104.1" r="5.00"/>
<circle cx="325.4" cy="55.9" r="5.00"/>
<circle cx="355.6" cy="113.8" r="5.00"/>
<circle cx="352.6" cy="69.7" r="5.00"/>
<circle cx="376.6" cy="41.7" r="5.00"/>
<circle cx="369.5" cy="61.2" r="5.00"/>
<circle cx="326.7" cy="47.4" r="5.00"/>
<circle cx="336.5" cy="103.3" r="5.00"/>
<circle cx="328.8" cy="84.5" r="5.00"/>
<circle cx="356.3" cy="67.8" r="5.00"/>
<circle cx="350.9" cy="43.0" r="5.00"/>
<circle cx="321.6" cy="54.5" r="5.00"/>
<circle cx="358.8" cy="72.2" r="5.00"/>
<circle cx="336.8" cy="84.8" r="5.00"/>
<circle cx="345.2" cy="62.0" r="5.00"/>
<circle cx="365.7" cy="93.9" r="5.00"/>
<circle cx="332.6" cy="84.0" r="5.00"/>
<circle cx="349.5" cy="108.0" r="5.00"/>
<circle cx="361.8" cy="61.0" r="5.00"/>
<circle cx="376.8" cy="47.4" r="5.00"/>
<circle cx="343.1" cy="98.6" r="5.00"/>
<circle cx="327.1" cy="77.1" r="5.00"/>
<circle cx="320.4" cy="91.5" r="5.00"/>
<circle cx="363.9" cy="83.8" r="5.00"/>
<circle cx="370.5" cy="63.1" r="5.00"/>
<circle cx="359.7" cy="85.5" r="5.00"/>
<circle cx="352.8" cy="74.5" r="5.00"/>
<circle cx="368.4" cy="113.6" r="5.00"/>
<circle cx="346.4" cy="91.1" r="5.00"/>
<circle cx="321.6" cy="94.1" r="5.00"/>
<circle cx="356.8" cy="117.4" r="5.00"/>
<circle cx="367.3" cy="60.8" r="5.00"/>
<circle cx="341.1" cy="91.5" r="5.00"/>
<circle cx="319.4" cy="74.9" r="5.00"/>
<circle cx="328.1" cy="47.4" r="5.00"/>
<circle cx="321.5" cy="99.5" r="5.00"/>
<circle cx="325.8" cy="57.8" r="5.00"/>
<circle cx="341.5" cy="107.7" r="5.00"/>
<circle cx="322.8" cy="73.9" r="5.00"/>
<circle cx="355.8" cy="74.9" r="5.00"/>
<circle cx="372.3" cy="70.4" r="5.00"/>
<circle cx="357.8" cy="76.2" r="5.00"/>
<circle cx="346.5" cy="72.6" r="5.00"/>
<circle cx="362.0" cy="86.1" r="5.00"/>
<circle cx="343.3" cy="62.6" r="5.00"/>
<circle cx="343.2" cy="86.9" r="5.00"/>
<circle cx="364.3" cy="50.0" r="5.00"/>
<circle cx="374.4" cy="94.3" r="5.00"/>
<circle cx="362.9" cy="77.5" r="5.00"/>
<circle cx="345.5" cy="48.7" r="5.00"/>
<circle cx="358.5" cy="50.9" r="5.00"/>
<circle cx="346.7" cy="59.6" r="5.00"/>
<circle cx="341.1" cy="70.3" r="5.00"/>
<circle cx="355.4" cy="88.4" r="5.00"/>
<circle cx="358.2" cy="78.7" r="5.00"/>
<circle cx="357.5" cy="79.8" r="5.00"/>
<circle cx="356.0" cy="61.4" r="5.00"/>
<circle cx="374.9" cy="95.8" r="5.00"/>
<circle cx="369.4" cy="82.0" r="5.00"/>
<circle cx="351.0" cy="59.0" r="5.00"/>
<circle cx="350.1" cy="51.4" r="5.00"/>
<circle cx="366.8" cy="67.2" r="5.00"/>
<circle cx="369.6" cy="66.6" r="5.00"/>
<circle cx="373.5" cy="88.7" r="5.00"/>
<circle cx="402.0" cy="36.6" r="5.00"/>
<circle cx="416.6" cy="39.4" r="5.00"/>
<circle cx="422.1" cy="36.1" r="5.00"/>
<circle cx="422.7" cy="37.2" r="5.00"/>
<circle cx="427.6" cy="42.2" r="5.00"/>
<circle cx="450.9" cy="37.7" r="5.00"/>
<circle cx="462.5" cy="38.8" r="5.00"/>
<circle cx="473.0" cy="35.5" r="5.00"/>
<circle cx="498.5" cy="42.2" r="5.00"/>
<circle cx="509.0" cy="36.6" r="5.00"/>
<circle cx="396.6" cy="48.2" r="5.00"/>
<circle cx="408.8" cy="54.3" r="5.00"/>
<circle cx="413.2" cy="49.3" r="5.00"/>
<circle cx="418.8" cy="44.9" r="5.00"/>
<circle cx="419.3" cy="58.2" r="5.00"/>
<circle cx="439.3" cy="44.9" r="5.00"/>
<circle cx="439.8" cy="57.7" r="5.00"/>
<circle cx="447.6" cy="48.2" r="5.00"/>
<circle cx="448.7" cy="51.0" r="5.00"/>
<circle cx="455.3" cy="54.9" r="5.00"/>
<circle cx="459.2" cy="52.1" r="5.00"/>
<circle cx="469.7" cy="45.5" r="5.00"/>
<circle cx="469.7" cy="54.3" r="5.00"/>
<circle cx="476.3" cy="52.1" r="5.00"/>
<circle cx="480.2" cy="57.1" r="5.00"/>
<circle cx="515.1" cy="52.7" r="5.00"/>
<circle cx="549.9" cy="48.8" r="5.00"/>
<circle cx="396.6" cy="64.3" r="5.00"/>
<circle cx="408.3" cy="69.3" r="5.00"/>
<circle cx="422.7" cy="70.4" r="5.00"/>
<circle cx="479.1" cy="66.5" r="5.00"/>
<circle cx="484.1" cy="66.0" r="5.00"/>
<circle cx="492.9" cy="66.5" r="5.00"/>
<circle cx="552.7" cy="66.0" r="5.00"/>
<circle cx="396.6" cy="76.5" r="5.00"/>
<circle cx="420.4" cy="82.0" r="5.00"/>
<circle cx="428.2" cy="81.4" r="5.00"/>
<circle cx="421.5" cy="85.9" r="5.00"/>
<circle cx="449.8" cy="81.4" r="5.00"/>
<circle cx="458.1" cy="81.4" r="5.00"/>
<circle cx="466.4" cy="76.5" r="5.00"/>
<circle cx="471.4" cy="78.7" r="5.00"/>
<circle cx="478.5" cy="72.6" r="5.00"/>
<circle cx="481.9" cy="75.4" r="5.00"/>
<circle cx="500.7" cy="79.8" r="5.00"/>
<circle cx="509.5" cy="78.7" r="5.00"/>
<circle cx="535.5" cy="81.4" r="5.00"/>
<circle cx="546.1" cy="86.4" r="5.00"/>
<circle cx="520.0" cy="88.6" r="5.00"/>
<circle cx="393.3" cy="98.0" r="5.00"/>
<circle cx="411.0" cy="103.0" r="5.00"/>
<circle cx="443.1" cy="98.6" r="5.00"/>
<circle cx="440.4" cy="105.2" r="5.00"/>
<circle cx="453.1" cy="98.0" r="5.00"/>
<circle cx="460.8" cy="103.6" r="5.00"/>
<circle cx="466.4" cy="92.5" r="5.00"/>
<circle cx="480.8" cy="92.5" r="5.00"/>
<circle cx="484.1" cy="93.6" r="5.00"/>
<circle cx="491.8" cy="93.1" r="5.00"/>
<circle cx="494.0" cy="94.7" r="5.00"/>
<circle cx="499.6" cy="95.8" r="5.00"/>
<circle cx="503.4" cy="99.2" r="5.00"/>
<circle cx="504.0" cy="99.7" r="5.00"/>
<circle cx="481.3" cy="106.4" r="5.00"/>
<circle cx="481.9" cy="106.9" r="5.00"/>
<circle cx="545.0" cy="98.6" r="5.00"/>
<circle cx="390.6" cy="113.5" r="5.00"/>
<circle cx="430.4" cy="113.0" r="5.00"/>
<circle cx="466.4" cy="112.4" r="5.00"/>
<circle cx="465.3" cy="119.1" r="5.00"/>
<circle cx="521.7" cy="112.4" r="5.00"/>
<circle cx="559.4" cy="95.3" r="5.00"/>
<circle cx="719.9" cy="49.9" r="5.00"/>
<circle cx="727.2" cy="37.2" r="5.00"/>
<circle cx="727.2" cy="37.7" r="5.00"/>
<circle cx="721.6" cy="49.9" r="5.00"/>
<circle cx="767.6" cy="46.6" r="5.00"/>
<circle cx="787.5" cy="42.2" r="5.00"/>
<circle cx="788.6" cy="54.3" r="5.00"/>
<circle cx="795.2" cy="53.8" r="5.00"/>
<circle cx="789.7" cy="63.7" r="5.00"/>
<circle cx="810.7" cy="39.4" r="5.00"/>
<circle cx="812.9" cy="41.0" r="5.00"/>
<circle cx="819.0" cy="48.2" r="5.00"/>
<circle cx="821.8" cy="54.9" r="5.00"/>
<circle cx="819.6" cy="64.3" r="5.00"/>
<circle cx="839.5" cy="53.2" r="5.00"/>
<circle cx="865.0" cy="54.3" r="5.00"/>
<circle cx="870.5" cy="38.8" r="5.00"/>
<circle cx="872.1" cy="43.8" r="5.00"/>
<circle cx="879.9" cy="59.9" r="5.00"/>
<circle cx="731.6" cy="83.1" r="5.00"/>
<circle cx="784.2" cy="76.5" r="5.00"/>
<circle cx="781.4" cy="82.6" r="5.00"/>
<circle cx="788.0" cy="90.9" r="5.00"/>
<circle cx="843.9" cy="71.5" r="5.00"/>
<circle cx="847.2" cy="72.6" r="5.00"/>
<circle cx="866.6" cy="75.9" r="5.00"/>
<circle cx="878.2" cy="77.0" r="5.00"/>
<circle cx="877.1" cy="82.6" r="5.00"/>
<circle cx="827.9" cy="94.2" r="5.00"/>
<circle cx="840.0" cy="92.0" r="5.00"/>
<circle cx="848.9" cy="89.2" r="5.00"/>
<circle cx="852.8" cy="92.5" r="5.00"/>
<circle cx="856.7" cy="90.9" r="5.00"/>
<circle cx="860.0" cy="101.4" r="5.00"/>
<circle cx="852.2" cy="103.0" r="5.00"/>
<circle cx="867.2" cy="92.5" r="5.00"/>
<circle cx="868.3" cy="93.6" r="5.00"/>
<circle cx="874.4" cy="95.3" r="5.00"/>
<circle cx="732.7" cy="105.2" r="5.00"/>
<circle cx="758.7" cy="111.3" r="5.00"/>
<circle cx="819.0" cy="111.9" r="5.00"/>
<circle cx="841.7" cy="111.9" r="5.00"/>
<circle cx="872.1" cy="107.5" r="5.00"/>
<circle cx="873.3" cy="109.1" r="5.00"/>
<circle cx="873.3" cy="118.5" r="5.00"/>
<circle cx="893.8" cy="39.9" r="5.00"/>
<circle cx="898.2" cy="47.7" r="5.00"/>
<circle cx="884.4" cy="54.3" r="5.00"/>
<circle cx="882.2" cy="60.4" r="5.00"/>
<circle cx="890.5" cy="62.1" r="5.00"/>
<circle cx="899.3" cy="56.5" r="5.00"/>
<circle cx="898.2" cy="62.6" r="5.00"/>
<circle cx="906.0" cy="64.3" r="5.00"/>
<circle cx="915.4" cy="37.7" r="5.00"/>
<circle cx="918.7" cy="42.7" r="5.00"/>
<circle cx="927.6" cy="42.7" r="5.00"/>
<circle cx="935.3" cy="54.3" r="5.00"/>
<circle cx="918.1" cy="62.1" r="5.00"/>
<circle cx="949.1" cy="40.5" r="5.00"/>
<circle cx="961.3" cy="41.6" r="5.00"/>
<circle cx="964.1" cy="49.3" r="5.00"/>
<circle cx="968.5" cy="42.7" r="5.00"/>
<circle cx="974.0" cy="44.9" r="5.00"/>
<circle cx="970.7" cy="53.2" r="5.00"/>
<circle cx="967.4" cy="58.2" r="5.00"/>
<circle cx="966.8" cy="60.4" r="5.00"/>
<circle cx="952.5" cy="63.7" r="5.00"/>
<circle cx="960.2" cy="68.7" r="5.00"/>
<circle cx="965.7" cy="72.0" r="5.00"/>
<circle cx="882.2" cy="76.5" r="5.00"/>
<circle cx="886.6" cy="76.5" r="5.00"/>
<circle cx="889.4" cy="77.0" r="5.00"/>
<circle cx="893.2" cy="77.0" r="5.00"/>
<circle cx="910.4" cy="75.9" r="5.00"/>
<circle cx="910.4" cy="77.0" r="5.00"/>
<circle cx="912.6" cy="83.7" r="5.00"/>
<circle cx="936.4" cy="72.6" r="5.00"/>
<circle cx="931.4" cy="78.1" r="5.00"/>
<circle cx="936.4" cy="77.0" r="5.00"/>
<circle cx="941.9" cy="80.3" r="5.00"/>
<circle cx="929.8" cy="85.9" r="5.00"/>
<circle cx="955.8" cy="79.2" r="5.00"/>
<circle cx="958.5" cy="85.9" r="5.00"/>
<circle cx="958.0" cy="80.3" r="5.00"/>
<circle cx="969.6" cy="84.8" r="5.00"/>
<circle cx="972.9" cy="83.7" r="5.00"/>
<circle cx="920.9" cy="96.4" r="5.00"/>
<circle cx="927.6" cy="95.3" r="5.00"/>
<circle cx="906.5" cy="102.5" r="5.00"/>
<circle cx="934.2" cy="103.0" r="5.00"/>
<circle cx="939.7" cy="100.3" r="5.00"/>
<circle cx="945.3" cy="101.4" r="5.00"/>
<circle cx="948.0" cy="105.8" r="5.00"/>
<circle cx="963.0" cy="95.8" r="5.00"/>
<circle cx="923.1" cy="113.5" r="5.00"/>
<circle cx="937.0" cy="115.8" r="5.00"/>
<circle cx="940.3" cy="112.4" r="5.00"/>
<circle cx="961.3" cy="113.0" r="5.00"/>
<circle cx="971.8" cy="119.1" r="5.00"/>
<circle cx="975.7" cy="119.1" r="5.00"/>
<circle cx="988.4" cy="38.8" r="5.00"/>
<circle cx="995.6" cy="44.4" r="5.00"/>
<circle cx="1013.3" cy="41.6" r="5.00"/>
<circle cx="1022.2" cy="42.2" r="5.00"/>
<circle cx="1024.4" cy="48.2" r="5.00"/>
<circle cx="1032.7" cy="38.3" r="5.00"/>
<circle cx="1037.1" cy="40.5" r="5.00"/>
<circle cx="1002.3" cy="56.5" r="5.00"/>
<circle cx="981.8" cy="64.3" r="5.00"/>
<circle cx="1026.6" cy="64.3" r="5.00"/>
<circle cx="1028.3" cy="67.1" r="5.00"/>
<circle cx="976.8" cy="73.7" r="5.00"/>
<circle cx="986.2" cy="79.8" r="5.00"/>
<circle cx="997.8" cy="74.8" r="5.00"/>
<circle cx="1008.4" cy="76.5" r="5.00"/>
<circle cx="998.4" cy="85.3" r="5.00"/>
<circle cx="1000.6" cy="92.0" r="5.00"/>
<circle cx="986.8" cy="91.4" r="5.00"/>
<circle cx="1021.1" cy="84.2" r="5.00"/>
<circle cx="1027.2" cy="82.6" r="5.00"/>
<circle cx="1033.3" cy="83.1" r="5.00"/>
<circle cx="1022.7" cy="97.5" r="5.00"/>
<circle cx="986.2" cy="104.7" r="5.00"/>
<circle cx="990.1" cy="106.9" r="5.00"/>
<circle cx="1022.7" cy="108.0" r="5.00"/>
<circle cx="1028.8" cy="113.0" r="5.00"/>
<circle cx="1036.0" cy="111.9" r="5.00"/>
<circle cx="1010.0" cy="115.8" r="5.00"/>
<circle cx="1039.3" cy="101.4" r="5.00"/>
<circle cx="1059.3" cy="44.4" r="5.00"/>
<circle cx="1069.8" cy="39.9" r="5.00"/>
<circle cx="1065.4" cy="52.1" r="5.00"/>
<circle cx="1082.6" cy="38.8" r="5.00"/>
<circle cx="1084.2" cy="46.6" r="5.00"/>
<circle cx="1092.5" cy="55.4" r="5.00"/>
<circle cx="1101.4" cy="47.1" r="5.00"/>
<circle cx="1110.2" cy="51.0" r="5.00"/>
<circle cx="1122.4" cy="35.5" r="5.00"/>
<circle cx="1131.8" cy="62.1" r="5.00"/>
<circle cx="1142.9" cy="60.4" r="5.00"/>
<circle cx="1172.8" cy="62.1" r="5.00"/>
<circle cx="1196.6" cy="51.0" r="5.00"/>
<circle cx="1043.3" cy="72.6" r="5.00"/>
<circle cx="1053.2" cy="74.8" r="5.00"/>
<circle cx="1052.7" cy="81.4" r="5.00"/>
<circle cx="1051.6" cy="82.6" r="5.00"/>
<circle cx="1064.9" cy="65.4" r="5.00"/>
<circle cx="1066.5" cy="66.5" r="5.00"/>
<circle cx="1068.2" cy="73.7" r="5.00"/>
<circle cx="1075.4" cy="77.0" r="5.00"/>
<circle cx="1075.4" cy="83.7" r="5.00"/>
<circle cx="1082.0" cy="71.5" r="5.00"/>
<circle cx="1085.3" cy="81.4" r="5.00"/>
<circle cx="1091.4" cy="76.5" r="5.00"/>
<circle cx="1082.6" cy="93.1" r="5.00"/>
<circle cx="1083.1" cy="94.2" r="5.00"/>
<circle cx="1153.4" cy="75.4" r="5.00"/>
<circle cx="1144.0" cy="82.0" r="5.00"/>
<circle cx="1145.1" cy="89.7" r="5.00"/>
<circle cx="1170.0" cy="87.5" r="5.00"/>
<circle cx="1182.2" cy="75.4" r="5.00"/>
<circle cx="1199.3" cy="74.8" r="5.00"/>
<circle cx="1197.7" cy="84.8" r="5.00"/>
<circle cx="1198.2" cy="90.3" r="5.00"/>
<circle cx="1198.2" cy="90.9" r="5.00"/>
<circle cx="1043.3" cy="100.8" r="5.00"/>
<circle cx="1047.7" cy="107.5" r="5.00"/>
<circle cx="1057.1" cy="106.4" r="5.00"/>
<circle cx="1060.4" cy="100.8" r="5.00"/>
<circle cx="1058.2" cy="106.4" r="5.00"/>
<circle cx="1072.1" cy="110.8" r="5.00"/>
<circle cx="1067.1" cy="114.7" r="5.00"/>
<circle cx="1058.8" cy="117.4" r="5.00"/>
<circle cx="1082.0" cy="110.8" r="5.00"/>
<circle cx="1079.3" cy="119.1" r="5.00"/>
<circle cx="1100.8" cy="105.2" r="5.00"/>
<circle cx="1111.4" cy="106.9" r="5.00"/>
<circle cx="1116.9" cy="108.6" r="5.00"/>
<circle cx="1132.9" cy="99.2" r="5.00"/>
<circle cx="1137.9" cy="97.5" r="5.00"/>
<circle cx="1144.6" cy="96.9" r="5.00"/>
<circle cx="1150.1" cy="104.7" r="5.00"/>
<circle cx="1177.2" cy="100.3" r="5.00"/>
<circle cx="1176.1" cy="104.7" r="5.00"/>
<circle cx="1187.2" cy="106.9" r="5.00"/>
<circle cx="1181.6" cy="115.8" r="5.00"/>
<circle cx="1188.3" cy="119.1" r="5.00"/>
<circle cx="1215.8" cy="35.9" r="5.00"/>
<circle cx="1227.4" cy="42.1" r="5.00"/>
<circle cx="1208.9" cy="62.7" r="5.00"/>
<circle cx="1208.9" cy="63.0" r="5.00"/>
<circle cx="1229.7" cy="64.0" r="5.00"/>
<circle cx="1213.8" cy="80.2" r="5.00"/>
<circle cx="1239.1" cy="89.3" r="5.00"/>
<circle cx="1244.0" cy="99.0" r="5.00"/>
<circle cx="1307.2" cy="95.1" r="5.00"/>
<circle cx="1353.2" cy="35.9" r="5.00"/>
<circle cx="1368.6" cy="59.8" r="5.00"/>
<circle cx="1206.0" cy="109.6" r="5.00"/>
<circle cx="368.2" cy="110.3" r="5.00"/>
<circle cx="366.6" cy="48.0" r="5.00"/>
<circle cx="351.6" cy="72.5" r="5.00"/>
<circle cx="348.5" cy="51.4" r="5.00"/>
<circle cx="331.6" cy="74.0" r="5.00"/>
<circle cx="333.1" cy="74.8" r="5.00"/>
<circle cx="323.2" cy="48.2" r="5.00"/>
<circle cx="357.5" cy="72.3" r="5.00"/>
<circle cx="347.6" cy="94.9" r="5.00"/>
<circle cx="339.9" cy="46.1" r="5.00"/>
<circle cx="361.2" cy="84.4" r="5.00"/>
<circle cx="354.9" cy="86.7" r="5.00"/>
<circle cx="370.5" cy="68.1" r="5.00"/>
<circle cx="360.0" cy="68.5" r="5.00"/>
<circle cx="350.6" cy="89.6" r="5.00"/>
<circle cx="337.7" cy="48.2" r="5.00"/>
<circle cx="345.7" cy="93.7" r="5.00"/>
<circle cx="351.5" cy="74.2" r="5.00"/>
<circle cx="354.1" cy="55.1" r="5.00"/>
<circle cx="362.8" cy="56.1" r="5.00"/>
<circle cx="327.7" cy="49.1" r="5.00"/>
<circle cx="323.9" cy="61.8" r="5.00"/>
<circle cx="350.6" cy="101.1" r="5.00"/>
<circle cx="360.9" cy="81.5" r="5.00"/>
<circle cx="334.9" cy="49.7" r="5.00"/>
<circle cx="361.2" cy="92.9" r="5.00"/>
<circle cx="363.4" cy="59.1" r="5.00"/>
<circle cx="388.6" cy="88.3" r="5.00"/>
<circle cx="389.8" cy="89.5" r="5.00"/>
<circle cx="379.2" cy="90.9" r="5.00"/>
<circle cx="376.4" cy="65.1" r="5.00"/>
<circle cx="375.6" cy="83.2" r="5.00"/>
<circle cx="392.2" cy="90.8" r="5.00"/>
<circle cx="395.1" cy="89.6" r="5.00"/>
<circle cx="388.5" cy="91.5" r="5.00"/>
<circle cx="393.7" cy="61.9" r="5.00"/>
<circle cx="399.4" cy="63.3" r="5.00"/>
<circle cx="379.8" cy="49.5" r="5.00"/>
<circle cx="386.6" cy="55.0" r="5.00"/>
<circle cx="398.3" cy="89.7" r="5.00"/>
<circle cx="380.4" cy="50.8" r="5.00"/>
</g>
<g fill="#C77CFF" fill-opacity="0.27">
<circle cx="342.7" cy="182.6" r="6.0"/>
<circle cx="382.6" cy="171.7" r="6.0"/>
</g>
<g fill="none" stroke="#C77CFF" stroke-opacity="0.27" stroke-width="2.0">
<circle cx="342.7" cy="182.6" r="5.00"/>
<circle cx="382.6" cy="171.7" r="5.00"/>
</g>
<g fill="#00A9FF" fill-opacity="0.27">
<circle cx="886.8" cy="321.3" r="6.0"/>
<circle cx="936.6" cy="323.6" r="6.0"/>
<circle cx="1080.8" cy="267.4" r="6.0"/>
</g>
<g fill="none" stroke="#00A9FF" stroke-opacity="0.27" stroke-width="2.0">
<circle cx="886.8" cy="321.3" r="5.00"/>
<circle cx="936.6" cy="323.6" r="5.00"/>
<circle cx="1080.8" cy="267.4" r="5.00"/>
</g>
<g fill="#00BFC4" fill-opacity="0.27">
<circle cx="329.3" cy="353.7" r="6.0"/>
<circle cx="347.1" cy="352.8" r="6.0"/>
<circle cx="356.2" cy="358.2" r="6.0"/>
<circle cx="340.8" cy="363.2" r="6.0"/>
<circle cx="322.4" cy="368.4" r="6.0"/>
<circle cx="348.2" cy="368.6" r="6.0"/>
<circle cx="327.7" cy="374.5" r="6.0"/>
<circle cx="389.3" cy="374.5" r="6.0"/>
<circle cx="427.9" cy="370.6" r="6.0"/>
<circle cx="361.6" cy="377.5" r="6.0"/>
<circle cx="357.9" cy="379.7" r="6.0"/>
<circle cx="368.4" cy="383.0" r="6.0"/>
<circle cx="327.7" cy="383.4" r="6.0"/>
<circle cx="322.1" cy="391.4" r="6.0"/>
<circle cx="363.8" cy="393.1" r="6.0"/>
<circle cx="346.5" cy="397.3" r="6.0"/>
<circle cx="393.8" cy="397.3" r="6.0"/>
<circle cx="336.7" cy="400.2" r="6.0"/>
<circle cx="356.0" cy="402.2" r="6.0"/>
<circle cx="481.4" cy="397.9" r="6.0"/>
<circle cx="329.3" cy="412.3" r="6.0"/>
<circle cx="344.9" cy="418.1" r="6.0"/>
<circle cx="347.1" cy="418.1" r="6.0"/>
<circle cx="369.7" cy="424.0" r="6.0"/>
<circle cx="383.3" cy="425.9" r="6.0"/>
<circle cx="904.3" cy="360.5" r="6.0"/>
</g>
<g fill="none" stroke="#00BFC4" stroke-opacity="0.27" stroke-width="2.0">
<circle cx="329.3" cy="353.7" r="5.00"/>
<circle cx="347.1" cy="352.8" r="5.00"/>
<circle cx="356.2" cy="358.2" r="5.00"/>
<circle cx="340.8" cy="363.2" r="5.00"/>
<circle cx="322.4" cy="368.4" r="5.00"/>
<circle cx="348.2" cy="368.6" r="5.00"/>
<circle cx="327.7" cy="374.5" r="5.00"/>
<circle cx="389.3" cy="374.5" r="5.00"/>
<circle cx="427.9" cy="370.6" r="5.00"/>
<circle cx="361.6" cy="377.5" r="5.00"/>
<circle cx="357.9" cy="379.7" r="5.00"/>
<circle cx="368.4" cy="383.0" r="5.00"/>
<circle cx="327.7" cy="383.4" r="5.00"/>
<circle cx="322.1" cy="391.4" r="5.00"/>
<circle cx="363.8" cy="393.1" r="5.00"/>
<circle cx="346.5" cy="397.3" r="5.00"/>
<circle cx="393.8" cy="397.3" r="5.00"/>
<circle cx="336.7" cy="400.2" r="5.00"/>
<circle cx="356.0" cy="402.2" r="5.00"/>
<circle cx="481.4" cy="397.9" r="5.00"/>
<circle cx="329.3" cy="412.3" r="5.00"/>
<circle cx="344.9" cy="418.1" r="5.00"/>
<circle cx="347.1" cy="418.1" r="5.00"/>
<circle cx="369.7" cy="424.0" r="5.00"/>
<circle cx="383.3" cy="425.9" r="5.00"/>
<circle cx="904.3" cy="360.5" r="5.00"/>
</g>
<g fill="#00BE67" fill-opacity="0.27">
<circle cx="429.3" cy="457.9" r="6.0"/>
<circle cx="449.2" cy="456.7" r="6.0"/>
<circle cx="452.1" cy="460.2" r="6.0"/>
<circle cx="455.0" cy="459.6" r="6.0"/>
<circle cx="465.0" cy="463.2" r="6.0"/>
<circle cx="419.9" cy="466.1" r="6.0"/>
<circle cx="414.6" cy="470.2" r="6.0"/>
<circle cx="441.6" cy="466.1" r="6.0"/>
<circle cx="445.1" cy="467.3" r="6.0"/>
<circle cx="452.7" cy="471.4" r="6.0"/>
<circle cx="431.6" cy="474.9" r="6.0"/>
<circle cx="419.9" cy="478.4" r="6.0"/>
<circle cx="419.3" cy="479.6" r="6.0"/>
<circle cx="459.1" cy="477.8" r="6.0"/>
<circle cx="466.8" cy="472.0" r="6.0"/>
<circle cx="466.2" cy="477.8" r="6.0"/>
<circle cx="403.5" cy="487.2" r="6.0"/>
<circle cx="424.0" cy="488.4" r="6.0"/>
<circle cx="428.7" cy="492.5" r="6.0"/>
<circle cx="417.5" cy="496.0" r="6.0"/>
<circle cx="409.3" cy="498.3" r="6.0"/>
<circle cx="399.4" cy="498.9" r="6.0"/>
<circle cx="398.2" cy="499.5" r="6.0"/>
<circle cx="441.6" cy="493.6" r="6.0"/>
<circle cx="448.0" cy="495.4" r="6.0"/>
<circle cx="450.4" cy="503.6" r="6.0"/>
<circle cx="463.8" cy="498.3" r="6.0"/>
<circle cx="469.7" cy="502.4" r="6.0"/>
<circle cx="469.1" cy="501.3" r="6.0"/>
<circle cx="472.0" cy="486.0" r="6.0"/>
<circle cx="470.9" cy="489.5" r="6.0"/>
<circle cx="480.8" cy="463.8" r="6.0"/>
<circle cx="481.4" cy="471.4" r="6.0"/>
<circle cx="487.3" cy="470.8" r="6.0"/>
<circle cx="490.8" cy="471.4" r="6.0"/>
<circle cx="494.9" cy="463.2" r="6.0"/>
<circle cx="496.6" cy="473.7" r="6.0"/>
<circle cx="505.4" cy="455.5" r="6.0"/>
<circle cx="505.4" cy="463.2" r="6.0"/>
<circle cx="504.3" cy="470.8" r="6.0"/>
<circle cx="480.8" cy="484.3" r="6.0"/>
<circle cx="504.8" cy="491.9" r="6.0"/>
<circle cx="518.3" cy="477.8" r="6.0"/>
<circle cx="530.0" cy="474.9" r="6.0"/>
<circle cx="526.5" cy="488.4" r="6.0"/>
<circle cx="541.2" cy="459.1" r="6.0"/>
<circle cx="544.1" cy="460.2" r="6.0"/>
<circle cx="567.5" cy="469.6" r="6.0"/>
<circle cx="482.6" cy="502.4" r="6.0"/>
<circle cx="487.9" cy="505.4" r="6.0"/>
<circle cx="493.1" cy="501.8" r="6.0"/>
<circle cx="492.5" cy="502.4" r="6.0"/>
<circle cx="552.9" cy="500.1" r="6.0"/>
<circle cx="561.7" cy="512.4" r="6.0"/>
<circle cx="521.8" cy="520.0" r="6.0"/>
<circle cx="520.1" cy="522.9" r="6.0"/>
<circle cx="495.5" cy="532.3" r="6.0"/>
<circle cx="513.1" cy="534.1" r="6.0"/>
<circle cx="537.7" cy="535.8" r="6.0"/>
<circle cx="561.1" cy="538.8" r="6.0"/>
<circle cx="428.7" cy="514.7" r="6.0"/>
<circle cx="426.3" cy="525.9" r="6.0"/>
<circle cx="425.7" cy="524.7" r="6.0"/>
<circle cx="435.7" cy="527.0" r="6.0"/>
<circle cx="449.2" cy="518.8" r="6.0"/>
<circle cx="461.5" cy="516.5" r="6.0"/>
<circle cx="469.7" cy="520.0" r="6.0"/>
<circle cx="402.3" cy="527.0" r="6.0"/>
<circle cx="407.6" cy="534.7" r="6.0"/>
<circle cx="410.5" cy="534.1" r="6.0"/>
<circle cx="713.4" cy="486.4" r="6.0"/>
<circle cx="739.0" cy="529.0" r="6.0"/>
<circle cx="765.6" cy="479.1" r="6.0"/>
<circle cx="801.8" cy="516.4" r="6.0"/>
<circle cx="833.7" cy="467.8" r="6.0"/>
<circle cx="850.0" cy="495.8" r="6.0"/>
<circle cx="855.5" cy="529.0" r="6.0"/>
<circle cx="870.8" cy="491.9" r="6.0"/>
<circle cx="873.7" cy="471.0" r="6.0"/>
<circle cx="877.0" cy="470.0" r="6.0"/>
<circle cx="874.7" cy="496.4" r="6.0"/>
<circle cx="874.7" cy="504.9" r="6.0"/>
<circle cx="884.8" cy="519.2" r="6.0"/>
<circle cx="885.4" cy="520.5" r="6.0"/>
<circle cx="890.0" cy="526.4" r="6.0"/>
<circle cx="895.2" cy="526.4" r="6.0"/>
<circle cx="890.4" cy="503.6" r="6.0"/>
<circle cx="899.5" cy="457.6" r="6.0"/>
<circle cx="918.0" cy="461.3" r="6.0"/>
<circle cx="929.7" cy="460.2" r="6.0"/>
<circle cx="940.4" cy="461.9" r="6.0"/>
<circle cx="933.3" cy="485.8" r="6.0"/>
<circle cx="928.0" cy="496.2" r="6.0"/>
<circle cx="912.1" cy="504.9" r="6.0"/>
<circle cx="937.5" cy="510.1" r="6.0"/>
<circle cx="934.2" cy="514.0" r="6.0"/>
<circle cx="956.9" cy="480.4" r="6.0"/>
<circle cx="956.7" cy="490.6" r="6.0"/>
<circle cx="984.7" cy="475.9" r="6.0"/>
<circle cx="1008.4" cy="460.4" r="6.0"/>
<circle cx="1019.7" cy="463.9" r="6.0"/>
<circle cx="1032.1" cy="456.1" r="6.0"/>
<circle cx="1039.2" cy="479.9" r="6.0"/>
<circle cx="1050.0" cy="477.3" r="6.0"/>
<circle cx="1058.5" cy="478.9" r="6.0"/>
<circle cx="1064.0" cy="473.0" r="6.0"/>
<circle cx="1071.2" cy="480.2" r="6.0"/>
<circle cx="1081.7" cy="472.7" r="6.0"/>
<circle cx="1100.2" cy="465.2" r="6.0"/>
<circle cx="1113.2" cy="476.9" r="6.0"/>
<circle cx="1106.0" cy="487.7" r="6.0"/>
<circle cx="1096.2" cy="495.8" r="6.0"/>
<circle cx="1128.2" cy="502.3" r="6.0"/>
<circle cx="1082.6" cy="514.9" r="6.0"/>
<circle cx="1112.9" cy="513.0" r="6.0"/>
<circle cx="1111.9" cy="526.4" r="6.0"/>
<circle cx="1071.8" cy="525.1" r="6.0"/>
<circle cx="1083.2" cy="534.6" r="6.0"/>
<circle cx="1047.4" cy="521.8" r="6.0"/>
<circle cx="1024.0" cy="517.7" r="6.0"/>
<circle cx="1026.2" cy="523.8" r="6.0"/>
<circle cx="1153.4" cy="459.3" r="6.0"/>
<circle cx="1158.4" cy="462.3" r="6.0"/>
<circle cx="1226.4" cy="458.7" r="6.0"/>
<circle cx="1231.2" cy="477.3" r="6.0"/>
<circle cx="1264.1" cy="504.6" r="6.0"/>
<circle cx="1273.9" cy="513.0" r="6.0"/>
<circle cx="1245.6" cy="529.6" r="6.0"/>
<circle cx="1191.8" cy="538.5" r="6.0"/>
<circle cx="1317.9" cy="459.1" r="6.0"/>
<circle cx="314.4" cy="490.2" r="6.0"/>
<circle cx="318.5" cy="490.2" r="6.0"/>
<circle cx="323.2" cy="490.7" r="6.0"/>
<circle cx="317.5" cy="519.9" r="6.0"/>
<circle cx="320.6" cy="514.7" r="6.0"/>
<circle cx="323.8" cy="459.1" r="6.0"/>
<circle cx="330.4" cy="459.1" r="6.0"/>
<circle cx="328.6" cy="457.3" r="6.0"/>
<circle cx="337.2" cy="460.2" r="6.0"/>
<circle cx="340.4" cy="455.8" r="6.0"/>
<circle cx="345.5" cy="454.2" r="6.0"/>
<circle cx="347.9" cy="460.3" r="6.0"/>
<circle cx="351.5" cy="459.5" r="6.0"/>
<circle cx="359.0" cy="455.0" r="6.0"/>
<circle cx="365.1" cy="455.5" r="6.0"/>
<circle cx="370.3" cy="460.0" r="6.0"/>
<circle cx="374.5" cy="457.8" r="6.0"/>
<circle cx="373.8" cy="460.5" r="6.0"/>
<circle cx="326.2" cy="464.6" r="6.0"/>
<circle cx="326.5" cy="459.6" r="6.0"/>
<circle cx="328.8" cy="460.5" r="6.0"/>
<circle cx="332.8" cy="463.1" r="6.0"/>
<circle cx="339.3" cy="464.1" r="6.0"/>
<circle cx="343.7" cy="461.8" r="6.0"/>
<circle cx="346.4" cy="465.1" r="6.0"/>
<circle cx="355.5" cy="464.2" r="6.0"/>
<circle cx="360.2" cy="461.0" r="6.0"/>
<circle cx="359.3" cy="458.8" r="6.0"/>
<circle cx="370.1" cy="459.8" r="6.0"/>
<circle cx="374.3" cy="464.9" r="6.0"/>
<circle cx="374.8" cy="462.1" r="6.0"/>
<circle cx="329.4" cy="468.7" r="6.0"/>
<circle cx="334.8" cy="463.5" r="6.0"/>
<circle cx="337.0" cy="469.1" r="6.0"/>
<circle cx="343.5" cy="466.6" r="6.0"/>
<circle cx="343.8" cy="464.1" r="6.0"/>
<circle cx="347.0" cy="467.6" r="6.0"/>
<circle cx="351.5" cy="463.2" r="6.0"/>
<circle cx="358.4" cy="465.7" r="6.0"/>
<circle cx="366.7" cy="465.8" r="6.0"/>
<circle cx="374.2" cy="463.1" r="6.0"/>
<circle cx="378.1" cy="463.8" r="6.0"/>
<circle cx="326.1" cy="471.6" r="6.0"/>
<circle cx="324.7" cy="470.3" r="6.0"/>
<circle cx="334.1" cy="469.3" r="6.0"/>
<circle cx="339.6" cy="473.1" r="6.0"/>
<circle cx="340.3" cy="470.6" r="6.0"/>
<circle cx="344.9" cy="469.3" r="6.0"/>
<circle cx="347.0" cy="469.9" r="6.0"/>
<circle cx="368.9" cy="473.2" r="6.0"/>
<circle cx="373.3" cy="472.6" r="6.0"/>
<circle cx="376.9" cy="472.5" r="6.0"/>
<circle cx="324.4" cy="473.6" r="6.0"/>
<circle cx="329.2" cy="476.4" r="6.0"/>
<circle cx="334.8" cy="476.1" r="6.0"/>
<circle cx="332.9" cy="475.4" r="6.0"/>
<circle cx="341.8" cy="474.8" r="6.0"/>
<circle cx="346.0" cy="477.1" r="6.0"/>
<circle cx="350.4" cy="476.7" r="6.0"/>
<circle cx="352.8" cy="477.4" r="6.0"/>
<circle cx="359.5" cy="478.3" r="6.0"/>
<circle cx="364.7" cy="477.4" r="6.0"/>
<circle cx="371.2" cy="476.4" r="6.0"/>
<circle cx="377.4" cy="472.9" r="6.0"/>
<circle cx="323.5" cy="480.6" r="6.0"/>
<circle cx="328.2" cy="481.4" r="6.0"/>
<circle cx="333.3" cy="476.3" r="6.0"/>
<circle cx="335.8" cy="480.5" r="6.0"/>
<circle cx="341.9" cy="480.4" r="6.0"/>
<circle cx="344.8" cy="477.6" r="6.0"/>
<circle cx="346.9" cy="478.3" r="6.0"/>
<circle cx="351.7" cy="476.3" r="6.0"/>
<circle cx="357.4" cy="480.3" r="6.0"/>
<circle cx="360.8" cy="482.2" r="6.0"/>
<circle cx="366.4" cy="478.0" r="6.0"/>
<circle cx="368.8" cy="481.8" r="6.0"/>
<circle cx="372.6" cy="480.3" r="6.0"/>
<circle cx="338.3" cy="484.9" r="6.0"/>
<circle cx="338.2" cy="484.6" r="6.0"/>
<circle cx="348.1" cy="487.1" r="6.0"/>
<circle cx="348.4" cy="486.6" r="6.0"/>
<circle cx="351.1" cy="484.3" r="6.0"/>
<circle cx="365.3" cy="483.1" r="6.0"/>
<circle cx="365.1" cy="482.5" r="6.0"/>
<circle cx="370.6" cy="487.0" r="6.0"/>
<circle cx="376.5" cy="482.3" r="6.0"/>
<circle cx="341.4" cy="487.9" r="6.0"/>
<circle cx="346.9" cy="490.5" r="6.0"/>
<circle cx="349.6" cy="486.8" r="6.0"/>
<circle cx="365.9" cy="486.9" r="6.0"/>
<circle cx="366.8" cy="489.3" r="6.0"/>
<circle cx="373.1" cy="485.7" r="6.0"/>
<circle cx="374.4" cy="488.5" r="6.0"/>
<circle cx="340.3" cy="495.5" r="6.0"/>
<circle cx="345.3" cy="489.4" r="6.0"/>
<circle cx="348.9" cy="493.2" r="6.0"/>
<circle cx="361.0" cy="491.9" r="6.0"/>
<circle cx="365.0" cy="490.6" r="6.0"/>
<circle cx="369.2" cy="489.7" r="6.0"/>
<circle cx="372.7" cy="492.2" r="6.0"/>
<circle cx="377.7" cy="495.5" r="6.0"/>
<circle cx="338.8" cy="499.3" r="6.0"/>
<circle cx="346.1" cy="493.9" r="6.0"/>
<circle cx="352.7" cy="500.5" r="6.0"/>
<circle cx="350.7" cy="499.4" r="6.0"/>
<circle cx="359.2" cy="500.2" r="6.0"/>
<circle cx="360.1" cy="495.7" r="6.0"/>
<circle cx="364.6" cy="497.9" r="6.0"/>
<circle cx="369.1" cy="497.9" r="6.0"/>
<circle cx="373.1" cy="496.3" r="6.0"/>
<circle cx="329.0" cy="504.1" r="6.0"/>
<circle cx="331.3" cy="500.2" r="6.0"/>
<circle cx="336.1" cy="504.5" r="6.0"/>
<circle cx="337.6" cy="502.8" r="6.0"/>
<circle cx="345.9" cy="501.5" r="6.0"/>
<circle cx="349.8" cy="502.3" r="6.0"/>
<circle cx="354.2" cy="499.8" r="6.0"/>
<circle cx="358.3" cy="499.0" r="6.0"/>
<circle cx="361.7" cy="503.1" r="6.0"/>
<circle cx="368.5" cy="502.6" r="6.0"/>
<circle cx="372.5" cy="498.7" r="6.0"/>
<circle cx="376.4" cy="499.7" r="6.0"/>
<circle cx="329.4" cy="502.7" r="6.0"/>
<circle cx="328.8" cy="503.5" r="6.0"/>
<circle cx="337.4" cy="504.0" r="6.0"/>
<circle cx="343.8" cy="507.0" r="6.0"/>
<circle cx="342.6" cy="506.7" r="6.0"/>
<circle cx="347.6" cy="504.8" r="6.0"/>
<circle cx="352.8" cy="505.1" r="6.0"/>
<circle cx="360.5" cy="506.9" r="6.0"/>
<circle cx="362.1" cy="508.3" r="6.0"/>
<circle cx="367.6" cy="506.4" r="6.0"/>
<circle cx="370.7" cy="503.2" r="6.0"/>
<circle cx="373.8" cy="502.8" r="6.0"/>
<circle cx="334.5" cy="511.1" r="6.0"/>
<circle cx="336.0" cy="507.6" r="6.0"/>
<circle cx="338.3" cy="509.4" r="6.0"/>
<circle cx="347.6" cy="507.9" r="6.0"/>
<circle cx="347.9" cy="508.0" r="6.0"/>
<circle cx="352.0" cy="510.2" r="6.0"/>
<circle cx="361.1" cy="509.4" r="6.0"/>
<circle cx="363.9" cy="511.5" r="6.0"/>
<circle cx="370.0" cy="507.7" r="6.0"/>
<circle cx="370.0" cy="511.5" r="6.0"/>
<circle cx="373.5" cy="508.3" r="6.0"/>
<circle cx="330.9" cy="513.4" r="6.0"/>
<circle cx="334.7" cy="516.3" r="6.0"/>
<circle cx="338.3" cy="512.9" r="6.0"/>
<circle cx="348.0" cy="515.7" r="6.0"/>
<circle cx="352.6" cy="511.3" r="6.0"/>
<circle cx="355.7" cy="514.1" r="6.0"/>
<circle cx="358.5" cy="518.0" r="6.0"/>
<circle cx="361.6" cy="511.9" r="6.0"/>
<circle cx="369.7" cy="514.6" r="6.0"/>
<circle cx="368.4" cy="513.0" r="6.0"/>
<circle cx="375.1" cy="511.7" r="6.0"/>
<circle cx="335.0" cy="516.9" r="6.0"/>
<circle cx="335.5" cy="519.3" r="6.0"/>
<circle cx="339.3" cy="516.4" r="6.0"/>
<circle cx="351.8" cy="517.2" r="6.0"/>
<circle cx="354.1" cy="519.0" r="6.0"/>
<circle cx="357.4" cy="520.0" r="6.0"/>
<circle cx="365.4" cy="517.8" r="6.0"/>
<circle cx="369.2" cy="517.2" r="6.0"/>
<circle cx="370.1" cy="516.3" r="6.0"/>
<circle cx="378.0" cy="517.8" r="6.0"/>
<circle cx="332.3" cy="521.8" r="6.0"/>
<circle cx="337.6" cy="520.4" r="6.0"/>
<circle cx="339.1" cy="522.6" r="6.0"/>
<circle cx="344.5" cy="522.2" r="6.0"/>
<circle cx="358.7" cy="523.1" r="6.0"/>
<circle cx="363.7" cy="526.6" r="6.0"/>
<circle cx="368.4" cy="521.9" r="6.0"/>
<circle cx="370.6" cy="521.0" r="6.0"/>
<circle cx="373.6" cy="521.9" r="6.0"/>
<circle cx="329.2" cy="528.3" r="6.0"/>
<circle cx="328.7" cy="525.4" r="6.0"/>
<circle cx="338.6" cy="531.0" r="6.0"/>
<circle cx="338.8" cy="527.4" r="6.0"/>
<circle cx="343.8" cy="524.6" r="6.0"/>
<circle cx="351.6" cy="529.4" r="6.0"/>
<circle cx="359.6" cy="527.5" r="6.0"/>
<circle cx="364.6" cy="525.3" r="6.0"/>
<circle cx="369.8" cy="527.6" r="6.0"/>
<circle cx="371.0" cy="529.7" r="6.0"/>
<circle cx="376.0" cy="531.1" r="6.0"/>
<circle cx="335.1" cy="529.1" r="6.0"/>
<circle cx="336.1" cy="534.9" r="6.0"/>
<circle cx="338.7" cy="530.8" r="6.0"/>
<circle cx="345.4" cy="531.3" r="6.0"/>
<circle cx="347.6" cy="531.3" r="6.0"/>
<circle cx="357.1" cy="534.6" r="6.0"/>
<circle cx="359.0" cy="531.6" r="6.0"/>
<circle cx="364.9" cy="532.2" r="6.0"/>
<circle cx="364.8" cy="529.6" r="6.0"/>
<circle cx="374.1" cy="530.3" r="6.0"/>
<circle cx="374.6" cy="533.5" r="6.0"/>
<circle cx="331.9" cy="537.3" r="6.0"/>
<circle cx="335.4" cy="535.5" r="6.0"/>
<circle cx="339.3" cy="535.9" r="6.0"/>
<circle cx="346.4" cy="536.0" r="6.0"/>
<circle cx="351.5" cy="539.6" r="6.0"/>
<circle cx="355.0" cy="536.9" r="6.0"/>
<circle cx="357.3" cy="537.3" r="6.0"/>
<circle cx="362.8" cy="535.2" r="6.0"/>
<circle cx="364.2" cy="535.7" r="6.0"/>
<circle cx="373.2" cy="538.2" r="6.0"/>
<circle cx="378.7" cy="535.2" r="6.0"/>
<circle cx="384.6" cy="458.0" r="6.0"/>
<circle cx="389.4" cy="459.7" r="6.0"/>
<circle cx="391.2" cy="457.5" r="6.0"/>
<circle cx="390.7" cy="457.9" r="6.0"/>
<circle cx="388.9" cy="456.0" r="6.0"/>
<circle cx="389.1" cy="474.4" r="6.0"/>
<circle cx="387.4" cy="474.8" r="6.0"/>
<circle cx="389.4" cy="484.1" r="6.0"/>
<circle cx="385.0" cy="484.1" r="6.0"/>
<circle cx="386.4" cy="486.2" r="6.0"/>
<circle cx="392.2" cy="488.3" r="6.0"/>
<circle cx="389.9" cy="484.1" r="6.0"/>
<circle cx="385.9" cy="486.5" r="6.0"/>
<circle cx="398.3" cy="494.3" r="6.0"/>
<circle cx="397.2" cy="495.3" r="6.0"/>
<circle cx="379.1" cy="511.1" r="6.0"/>
<circle cx="379.7" cy="514.2" r="6.0"/>
<circle cx="386.0" cy="509.7" r="6.0"/>
<circle cx="383.3" cy="515.7" r="6.0"/>
<circle cx="379.2" cy="508.6" r="6.0"/>
<circle cx="382.7" cy="516.3" r="6.0"/>
<circle cx="392.8" cy="515.5" r="6.0"/>
<circle cx="385.2" cy="530.3" r="6.0"/>
<circle cx="386.3" cy="535.0" r="6.0"/>
<circle cx="384.0" cy="528.8" r="6.0"/>
<circle cx="387.1" cy="535.7" r="6.0"/>
<circle cx="382.9" cy="526.3" r="6.0"/>
<circle cx="382.2" cy="531.6" r="6.0"/>
<circle cx="387.0" cy="527.8" r="6.0"/>
<circle cx="377.5" cy="464.8" r="6.0"/>
<circle cx="381.2" cy="465.5" r="6.0"/>
<circle cx="381.8" cy="460.5" r="6.0"/>
<circle cx="377.9" cy="500.7" r="6.0"/>
<circle cx="381.7" cy="496.5" r="6.0"/>
<circle cx="380.8" cy="499.2" r="6.0"/>
</g>
<g fill="none" stroke="#00BE67" stroke-opacity="0.27" stroke-width="2.0">
<circle cx="429.3" cy="457.9" r="5.00"/>
<circle cx="449.2" cy="456.7" r="5.00"/>
<circle cx="452.1" cy="460.2" r="5.00"/>
<circle cx="455.0" cy="459.6" r="5.00"/>
<circle cx="465.0" cy="463.2" r="5.00"/>
<circle cx="419.9" cy="466.1" r="5.00"/>
<circle cx="414.6" cy="470.2" r="5.00"/>
<circle cx="441.6" cy="466.1" r="5.00"/>
<circle cx="445.1" cy="467.3" r="5.00"/>
<circle cx="452.7" cy="471.4" r="5.00"/>
<circle cx="431.6" cy="474.9" r="5.00"/>
<circle cx="419.9" cy="478.4" r="5.00"/>
<circle cx="419.3" cy="479.6" r="5.00"/>
<circle cx="459.1" cy="477.8" r="5.00"/>
<circle cx="466.8" cy="472.0" r="5.00"/>
<circle cx="466.2" cy="477.8" r="5.00"/>
<circle cx="403.5" cy="487.2" r="5.00"/>
<circle cx="424.0" cy="488.4" r="5.00"/>
<circle cx="428.7" cy="492.5" r="5.00"/>
<circle cx="417.5" cy="496.0" r="5.00"/>
<circle cx="409.3" cy="498.3" r="5.00"/>
<circle cx="399.4" cy="498.9" r="5.00"/>
<circle cx="398.2" cy="499.5" r="5.00"/>
<circle cx="441.6" cy="493.6" r="5.00"/>
<circle cx="448.0" cy="495.4" r="5.00"/>
<circle cx="450.4" cy="503.6" r="5.00"/>
<circle cx="463.8" cy="498.3" r="5.00"/>
<circle cx="469.7" cy="502.4" r="5.00"/>
<circle cx="469.1" cy="501.3" r="5.00"/>
<circle cx="472.0" cy="486.0" r="5.00"/>
<circle cx="470.9" cy="489.5" r="5.00"/>
<circle cx="480.8" cy="463.8" r="5.00"/>
<circle cx="481.4" cy="471.4" r="5.00"/>
<circle cx="487.3" cy="470.8" r="5.00"/>
<circle cx="490.8" cy="471.4" r="5.00"/>
<circle cx="494.9" cy="463.2" r="5.00"/>
<circle cx="496.6" cy="473.7" r="5.00"/>
<circle cx="505.4" cy="455.5" r="5.00"/>
<circle cx="505.4" cy="463.2" r="5.00"/>
<circle cx="504.3" cy="470.8" r="5.00"/>
<circle cx="480.8" cy="484.3" r="5.00"/>
<circle cx="504.8" cy="491.9" r="5.00"/>
<circle cx="518.3" cy="477.8" r="5.00"/>
<circle cx="530.0" cy="474.9" r="5.00"/>
<circle cx="526.5" cy="488.4" r="5.00"/>
<circle cx="541.2" cy="459.1" r="5.00"/>
<circle cx="544.1" cy="460.2" r="5.00"/>
<circle cx="567.5" cy="469.6" r="5.00"/>
<circle cx="482.6" cy="502.4" r="5.00"/>
<circle cx="487.9" cy="505.4" r="5.00"/>
<circle cx="493.1" cy="501.8" r="5.00"/>
<circle cx="492.5" cy="502.4" r="5.00"/>
<circle cx="552.9" cy="500.1" r="5.00"/>
<circle cx="561.7" cy="512.4" r="5.00"/>
<circle cx="521.8" cy="520.0" r="5.00"/>
<circle cx="520.1" cy="522.9" r="5.00"/>
<circle cx="495.5" cy="532.3" r="5.00"/>
<circle cx="513.1" cy="534.1" r="5.00"/>
<circle cx="537.7" cy="535.8" r="5.00"/>
<circle cx="561.1" cy="538.8" r="5.00"/>
<circle cx="428.7" cy="514.7" r="5.00"/>
<circle cx="426.3" cy="525.9" r="5.00"/>
<circle cx="425.7" cy="524.7" r="5.00"/>
<circle cx="435.7" cy="527.0" r="5.00"/>
<circle cx="449.2" cy="518.8" r="5.00"/>
<circle cx="461.5" cy="516.5" r="5.00"/>
<circle cx="469.7" cy="520.0" r="5.00"/>
<circle cx="402.3" cy="527.0" r="5.00"/>
<circle cx="407.6" cy="534.7" r="5.00"/>
<circle cx="410.5" cy="534.1" r="5.00"/>
<circle cx="713.4" cy="486.4" r="5.00"/>
<circle cx="739.0" cy="529.0" r="5.00"/>
<circle cx="765.6" cy="479.1" r="5.00"/>
<circle cx="801.8" cy="516.4" r="5.00"/>
<circle cx="833.7" cy="467.8" r="5.00"/>
<circle cx="850.0" cy="495.8" r="5.00"/>
<circle cx="855.5" cy="529.0" r="5.00"/>
<circle cx="870.8" cy="491.9" r="5.00"/>
<circle cx="873.7" cy="471.0" r="5.00"/>
<circle cx="877.0" cy="470.0" r="5.00"/>
<circle cx="874.7" cy="496.4" r="5.00"/>
<circle cx="874.7" cy="504.9" r="5.00"/>
<circle cx="884.8" cy="519.2" r="5.00"/>
<circle cx="885.4" cy="520.5" r="5.00"/>
<circle cx="890.0" cy="526.4" r="5.00"/>
<circle cx="895.2" cy="526.4" r="5.00"/>
<circle cx="890.4" cy="503.6" r="5.00"/>
<circle cx="899.5" cy="457.6" r="5.00"/>
<circle cx="918.0" cy="461.3" r="5.00"/>
<circle cx="929.7" cy="460.2" r="5.00"/>
<circle cx="940.4" cy="461.9" r="5.00"/>
<circle cx="933.3" cy="485.8" r="5.00"/>
<circle cx="928.0" cy="496.2" r="5.00"/>
<circle cx="912.1" cy="504.9" r="5.00"/>
<circle cx="937.5" cy="510.1" r="5.00"/>
<circle cx="934.2" cy="514.0" r="5.00"/>
<circle cx="956.9" cy="480.4" r="5.00"/>
<circle cx="956.7" cy="490.6" r="5.00"/>
<circle cx="984.7" cy="475.9" r="5.00"/>
<circle cx="1008.4" cy="460.4" r="5.00"/>
<circle cx="1019.7" cy="463.9" r="5.00"/>
<circle cx="1032.1" cy="456.1" r="5.00"/>
<circle cx="1039.2" cy="479.9" r="5.00"/>
<circle cx="1050.0" cy="477.3" r="5.00"/>
<circle cx="1058.5" cy="478.9" r="5.00"/>
<circle cx="1064.0" cy="473.0" r="5.00"/>
<circle cx="1071.2" cy="480.2" r="5.00"/>
<circle cx="1081.7" cy="472.7" r="5.00"/>
<circle cx="1100.2" cy="465.2" r="5.00"/>
<circle cx="1113.2" cy="476.9" r="5.00"/>
<circle cx="1106.0" cy="487.7" r="5.00"/>
<circle cx="1096.2" cy="495.8" r="5.00"/>
<circle cx="1128.2" cy="502.3" r="5.00"/>
<circle cx="1082.6" cy="514.9" r="5.00"/>
<circle cx="1112.9" cy="513.0" r="5.00"/>
<circle cx="1111.9" cy="526.4" r="5.00"/>
<circle cx="1071.8" cy="525.1" r="5.00"/>
<circle cx="1083.2" cy="534.6" r="5.00"/>
<circle cx="1047.4" cy="521.8" r="5.00"/>
<circle cx="1024.0" cy="517.7" r="5.00"/>
<circle cx="1026.2" cy="523.8" r="5.00"/>
<circle cx="1153.4" cy="459.3" r="5.00"/>
<circle cx="1158.4" cy="462.3" r="5.00"/>
<circle cx="1226.4" cy="458.7" r="5.00"/>
<circle cx="1231.2" cy="477.3" r="5.00"/>
<circle cx="1264.1" cy="504.6" r="5.00"/>
<circle cx="1273.9" cy="513.0" r="5.00"/>
<circle cx="1245.6" cy="529.6" r="5.00"/>
<circle cx="1191.8" cy="538.5" r="5.00"/>
<circle cx="1317.9" cy="459.1" r="5.00"/>
<circle cx="314.4" cy="490.2" r="5.00"/>
<circle cx="318.5" cy="490.2" r="5.00"/>
<circle cx="323.2" cy="490.7" r="5.00"/>
<circle cx="317.5" cy="519.9" r="5.00"/>
<circle cx="320.6" cy="514.7" r="5.00"/>
<circle cx="323.8" cy="459.1" r="5.00"/>
<circle cx="330.4" cy="459.1" r="5.00"/>
<circle cx="328.6" cy="457.3" r="5.00"/>
<circle cx="337.2" cy="460.2" r="5.00"/>
<circle cx="340.4" cy="455.8" r="5.00"/>
<circle cx="345.5" cy="454.2" r="5.00"/>
<circle cx="347.9" cy="460.3" r="5.00"/>
<circle cx="351.5" cy="459.5" r="5.00"/>
<circle cx="359.0" cy="455.0" r="5.00"/>
<circle cx="365.1" cy="455.5" r="5.00"/>
<circle cx="370.3" cy="460.0" r="5.00"/>
<circle cx="374.5" cy="457.8" r="5.00"/>
<circle cx="373.8" cy="460.5" r="5.00"/>
<circle cx="326.2" cy="464.6" r="5.00"/>
<circle cx="326.5" cy="459.6" r="5.00"/>
<circle cx="328.8" cy="460.5" r="5.00"/>
<circle cx="332.8" cy="463.1" r="5.00"/>
<circle cx="339.3" cy="464.1" r="5.00"/>
<circle cx="343.7" cy="461.8" r="5.00"/>
<circle cx="346.4" cy="465.1" r="5.00"/>
<circle cx="355.5" cy="464.2" r="5.00"/>
<circle cx="360.2" cy="461.0" r="5.00"/>
<circle cx="359.3" cy="458.8" r="5.00"/>
<circle cx="370.1" cy="459.8" r="5.00"/>
<circle cx="374.3" cy="464.9" r="5.00"/>
<circle cx="374.8" cy="462.1" r="5.00"/>
<circle cx="329.4" cy="468.7" r="5.00"/>
<circle cx="334.8" cy="463.5" r="5.00"/>
<circle cx="337.0" cy="469.1" r="5.00"/>
<circle cx="343.5" cy="466.6" r="5.00"/>
<circle cx="343.8" cy="464.1" r="5.00"/>
<circle cx="347.0" cy="467.6" r="5.00"/>
<circle cx="351.5" cy="463.2" r="5.00"/>
<circle cx="358.4" cy="465.7" r="5.00"/>
<circle cx="366.7" cy="465.8" r="5.00"/>
<circle cx="374.2" cy="463.1" r="5.00"/>
<circle cx="378.1" cy="463.8" r="5.00"/>
<circle cx="326.1" cy="471.6" r="5.00"/>
<circle cx="324.7" cy="470.3" r="5.00"/>
<circle cx="334.1" cy="469.3" r="5.00"/>
<circle cx="339.6" cy="473.1" r="5.00"/>
<circle cx="340.3" cy="470.6" r="5.00"/>
<circle cx="344.9" cy="469.3" r="5.00"/>
<circle cx="347.0" cy="469.9" r="5.00"/>
<circle cx="368.9" cy="473.2" r="5.00"/>
<circle cx="373.3" cy="472.6" r="5.00"/>
<circle cx="376.9" cy="472.5" r="5.00"/>
<circle cx="324.4" cy="473.6" r="5.00"/>
<circle cx="329.2" cy="476.4" r="5.00"/>
<circle cx="334.8" cy="476.1" r="5.00"/>
<circle cx="332.9" cy="475.4" r="5.00"/>
<circle cx="341.8" cy="474.8" r="5.00"/>
<circle cx="346.0" cy="477.1" r="5.00"/>
<circle cx="350.4" cy="476.7" r="5.00"/>
<circle cx="352.8" cy="477.4" r="5.00"/>
<circle cx="359.5" cy="478.3" r="5.00"/>
<circle cx="364.7" cy="477.4" r="5.00"/>
<circle cx="371.2" cy="476.4" r="5.00"/>
<circle cx="377.4" cy="472.9" r="5.00"/>
<circle cx="323.5" cy="480.6" r="5.00"/>
<circle cx="328.2" cy="481.4" r="5.00"/>
<circle cx="333.3" cy="476.3" r="5.00"/>
<circle cx="335.8" cy="480.5" r="5.00"/>
<circle cx="341.9" cy="480.4" r="5.00"/>
<circle cx="344.8" cy="477.6" r="5.00"/>
<circle cx="346.9" cy="478.3" r="5.00"/>
<circle cx="351.7" cy="476.3" r="5.00"/>
<circle cx="357.4" cy="480.3" r="5.00"/>
<circle cx="360.8" cy="482.2" r="5.00"/>
<circle cx="366.4" cy="478.0" r="5.00"/>
<circle cx="368.8" cy="481.8" r="5.00"/>
<circle cx="372.6" cy="480.3" r="5.00"/>
<circle cx="338.3" cy="484.9" r="5.00"/>
<circle cx="338.2" cy="484.6" r="5.00"/>
<circle cx="348.1" cy="487.1" r="5.00"/>
<circle cx="348.4" cy="486.6" r="5.00"/>
<circle cx="351.1" cy="484.3" r="5.00"/>
<circle cx="365.3" cy="483.1" r="5.00"/>
<circle cx="365.1" cy="482.5" r="5.00"/>
<circle cx="370.6" cy="487.0" r="5.00"/>
<circle cx="376.5" cy="482.3" r="5.00"/>
<circle cx="341.4" cy="487.9" r="5.00"/>
<circle cx="346.9" cy="490.5" r="5.00"/>
<circle cx="349.6" cy="486.8" r="5.00"/>
<circle cx="365.9" cy="486.9" r="5.00"/>
<circle cx="366.8" cy="489.3" r="5.00"/>
<circle cx="373.1" cy="485.7" r="5.00"/>
<circle cx="374.4" cy="488.5" r="5.00"/>
<circle cx="340.3" cy="495.5" r="5.00"/>
<circle cx="345.3" cy="489.4" r="5.00"/>
<circle cx="348.9" cy="493.2" r="5.00"/>
<circle cx="361.0" cy="491.9" r="5.00"/>
<circle cx="365.0" cy="490.6" r="5.00"/>
<circle cx="369.2" cy="489.7" r="5.00"/>
<circle cx="372.7" cy="492.2" r="5.00"/>
<circle cx="377.7" cy="495.5" r="5.00"/>
<circle cx="338.8" cy="499.3" r="5.00"/>
<circle cx="346.1" cy="493.9" r="5.00"/>
<circle cx="352.7" cy="500.5" r="5.00"/>
<circle cx="350.7" cy="499.4" r="5.00"/>
<circle cx="359.2" cy="500.2" r="5.00"/>
<circle cx="360.1" cy="495.7" r="5.00"/>
<circle cx="364.6" cy="497.9" r="5.00"/>
<circle cx="369.1" cy="497.9" r="5.00"/>
<circle cx="373.1" cy="496.3" r="5.00"/>
<circle cx="329.0" cy="504.1" r="5.00"/>
<circle cx="331.3" cy="500.2" r="5.00"/>
<circle cx="336.1" cy="504.5" r="5.00"/>
<circle cx="337.6" cy="502.8" r="5.00"/>
<circle cx="345.9" cy="501.5" r="5.00"/>
<circle cx="349.8" cy="502.3" r="5.00"/>
<circle cx="354.2" cy="499.8" r="5.00"/>
<circle cx="358.3" cy="499.0" r="5.00"/>
<circle cx="361.7" cy="503.1" r="5.00"/>
<circle cx="368.5" cy="502.6" r="5.00"/>
<circle cx="372.5" cy="498.7" r="5.00"/>
<circle cx="376.4" cy="499.7" r="5.00"/>
<circle cx="329.4" cy="502.7" r="5.00"/>
<circle cx="328.8" cy="503.5" r="5.00"/>
<circle cx="337.4" cy="504.0" r="5.00"/>
<circle cx="343.8" cy="507.0" r="5.00"/>
<circle cx="342.6" cy="506.7" r="5.00"/>
<circle cx="347.6" cy="504.8" r="5.00"/>
<circle cx="352.8" cy="505.1" r="5.00"/>
<circle cx="360.5" cy="506.9" r="5.00"/>
<circle cx="362.1" cy="508.3" r="5.00"/>
<circle cx="367.6" cy="506.4" r="5.00"/>
<circle cx="370.7" cy="503.2" r="5.00"/>
<circle cx="373.8" cy="502.8" r="5.00"/>
<circle cx="334.5" cy="511.1" r="5.00"/>
<circle cx="336.0" cy="507.6" r="5.00"/>
<circle cx="338.3" cy="509.4" r="5.00"/>
<circle cx="347.6" cy="507.9" r="5.00"/>
<circle cx="347.9" cy="508.0" r="5.00"/>
<circle cx="352.0" cy="510.2" r="5.00"/>
<circle cx="361.1" cy="509.4" r="5.00"/>
<circle cx="363.9" cy="511.5" r="5.00"/>
<circle cx="370.0" cy="507.7" r="5.00"/>
<circle cx="370.0" cy="511.5" r="5.00"/>
<circle cx="373.5" cy="508.3" r="5.00"/>
<circle cx="330.9" cy="513.4" r="5.00"/>
<circle cx="334.7" cy="516.3" r="5.00"/>
<circle cx="338.3" cy="512.9" r="5.00"/>
<circle cx="348.0" cy="515.7" r="5.00"/>
<circle cx="352.6" cy="511.3" r="5.00"/>
<circle cx="355.7" cy="514.1" r="5.00"/>
<circle cx="358.5" cy="518.0" r="5.00"/>
<circle cx="361.6" cy="511.9" r="5.00"/>
<circle cx="369.7" cy="514.6" r="5.00"/>
<circle cx="368.4" cy="513.0" r="5.00"/>
<circle cx="375.1" cy="511.7" r="5.00"/>
<circle cx="335.0" cy="516.9" r="5.00"/>
<circle cx="335.5" cy="519.3" r="5.00"/>
<circle cx="339.3" cy="516.4" r="5.00"/>
<circle cx="351.8" cy="517.2" r="5.00"/>
<circle cx="354.1" cy="519.0" r="5.00"/>
<circle cx="357.4" cy="520.0" r="5.00"/>
<circle cx="365.4" cy="517.8" r="5.00"/>
<circle cx="369.2" cy="517.2" r="5.00"/>
<circle cx="370.1" cy="516.3" r="5.00"/>
<circle cx="378.0" cy="517.8" r="5.00"/>
<circle cx="332.3" cy="521.8" r="5.00"/>
<circle cx="337.6" cy="520.4" r="5.00"/>
<circle cx="339.1" cy="522.6" r="5.00"/>
<circle cx="344.5" cy="522.2" r="5.00"/>
<circle cx="358.7" cy="523.1" r="5.00"/>
<circle cx="363.7" cy="526.6" r="5.00"/>
<circle cx="368.4" cy="521.9" r="5.00"/>
<circle cx="370.6" cy="521.0" r="5.00"/>
<circle cx="373.6" cy="521.9" r="5.00"/>
<circle cx="329.2" cy="528.3" r="5.00"/>
<circle cx="328.7" cy="525.4" r="5.00"/>
<circle cx="338.6" cy="531.0" r="5.00"/>
<circle cx="338.8" cy="527.4" r="5.00"/>
<circle cx="343.8" cy="524.6" r="5.00"/>
<circle cx="351.6" cy="529.4" r="5.00"/>
<circle cx="359.6" cy="527.5" r="5.00"/>
<circle cx="364.6" cy="525.3" r="5.00"/>
<circle cx="369.8" cy="527.6" r="5.00"/>
<circle cx="371.0" cy="529.7" r="5.00"/>
<circle cx="376.0" cy="531.1" r="5.00"/>
<circle cx="335.1" cy="529.1" r="5.00"/>
<circle cx="336.1" cy="534.9" r="5.00"/>
<circle cx="338.7" cy="530.8" r="5.00"/>
<circle cx="345.4" cy="531.3" r="5.00"/>
<circle cx="347.6" cy="531.3" r="5.00"/>
<circle cx="357.1" cy="534.6" r="5.00"/>
<circle cx="359.0" cy="531.6" r="5.00"/>
<circle cx="364.9" cy="532.2" r="5.00"/>
<circle cx="364.8" cy="529.6" r="5.00"/>
<circle cx="374.1" cy="530.3" r="5.00"/>
<circle cx="374.6" cy="533.5" r="5.00"/>
<circle cx="331.9" cy="537.3" r="5.00"/>
<circle cx="335.4" cy="535.5" r="5.00"/>
<circle cx="339.3" cy="535.9" r="5.00"/>
<circle cx="346.4" cy="536.0" r="5.00"/>
<circle cx="351.5" cy="539.6" r="5.00"/>
<circle cx="355.0" cy="536.9" r="5.00"/>
<circle cx="357.3" cy="537.3" r="5.00"/>
<circle cx="362.8" cy="535.2" r="5.00"/>
<circle cx="364.2" cy="535.7" r="5.00"/>
<circle cx="373.2" cy="538.2" r="5.00"/>
<circle cx="378.7" cy="535.2" r="5.00"/>
<circle cx="384.6" cy="458.0" r="5.00"/>
<circle cx="389.4" cy="459.7" r="5.00"/>
<circle cx="391.2" cy="457.5" r="5.00"/>
<circle cx="390.7" cy="457.9" r="5.00"/>
<circle cx="388.9" cy="456.0" r="5.00"/>
<circle cx="389.1" cy="474.4" r="5.00"/>
<circle cx="387.4" cy="474.8" r="5.00"/>
<circle cx="389.4" cy="484.1" r="5.00"/>
<circle cx="385.0" cy="484.1" r="5.00"/>
<circle cx="386.4" cy="486.2" r="5.00"/>
<circle cx="392.2" cy="488.3" r="5.00"/>
<circle cx="389.9" cy="484.1" r="5.00"/>
<circle cx="385.9" cy="486.5" r="5.00"/>
<circle cx="398.3" cy="494.3" r="5.00"/>
<circle cx="397.2" cy="495.3" r="5.00"/>
<circle cx="379.1" cy="511.1" r="5.00"/>
<circle cx="379.7" cy="514.2" r="5.00"/>
<circle cx="386.0" cy="509.7" r="5.00"/>
<circle cx="383.3" cy="515.7" r="5.00"/>
<circle cx="379.2" cy="508.6" r="5.00"/>
<circle cx="382.7" cy="516.3" r="5.00"/>
<circle cx="392.8" cy="515.5" r="5.00"/>
<circle cx="385.2" cy="530.3" r="5.00"/>
<circle cx="386.3" cy="535.0" r="5.00"/>
<circle cx="384.0" cy="528.8" r="5.00"/>
<circle cx="387.1" cy="535.7" r="5.00"/>
<circle cx="382.9" cy="526.3" r="5.00"/>
<circle cx="382.2" cy="531.6" r="5.00"/>
<circle cx="387.0" cy="527.8" r="5.00"/>
<circle cx="377.5" cy="464.8" r="5.00"/>
<circle cx="381.2" cy="465.5" r="5.00"/>
<circle cx="381.8" cy="460.5" r="5.00"/>
<circle cx="377.9" cy="500.7" r="5.00"/>
<circle cx="381.7" cy="496.5" r="5.00"/>
<circle cx="380.8" cy="499.2" r="5.00"/>
</g>
<g fill="#7CAE00" fill-opacity="0.27">
<circle cx="347.7" cy="561.0" r="6.0"/>
<circle cx="350.8" cy="568.3" r="6.0"/>
<circle cx="371.6" cy="570.0" r="6.0"/>
<circle cx="371.6" cy="570.0" r="6.0"/>
<circle cx="346.2" cy="578.8" r="6.0"/>
<circle cx="355.5" cy="581.0" r="6.0"/>
<circle cx="371.1" cy="579.6" r="6.0"/>
<circle cx="375.7" cy="585.0" r="6.0"/>
<circle cx="339.4" cy="585.5" r="6.0"/>
<circle cx="336.4" cy="591.0" r="6.0"/>
<circle cx="359.6" cy="591.0" r="6.0"/>
<circle cx="388.9" cy="591.0" r="6.0"/>
<circle cx="387.2" cy="597.1" r="6.0"/>
<circle cx="315.2" cy="596.5" r="6.0"/>
<circle cx="366.9" cy="603.7" r="6.0"/>
<circle cx="333.3" cy="607.0" r="6.0"/>
<circle cx="340.3" cy="616.0" r="6.0"/>
<circle cx="399.0" cy="616.9" r="6.0"/>
<circle cx="385.5" cy="622.3" r="6.0"/>
<circle cx="338.4" cy="624.5" r="6.0"/>
<circle cx="392.2" cy="632.4" r="6.0"/>
<circle cx="393.1" cy="632.9" r="6.0"/>
<circle cx="420.2" cy="632.4" r="6.0"/>
<circle cx="445.2" cy="632.4" r="6.0"/>
<circle cx="445.2" cy="632.4" r="6.0"/>
<circle cx="330.5" cy="634.6" r="6.0"/>
<circle cx="354.5" cy="640.9" r="6.0"/>
<circle cx="381.6" cy="641.4" r="6.0"/>
<circle cx="387.7" cy="642.2" r="6.0"/>
<circle cx="397.8" cy="641.4" r="6.0"/>
<circle cx="460.0" cy="564.4" r="6.0"/>
<circle cx="485.3" cy="561.5" r="6.0"/>
<circle cx="487.9" cy="569.5" r="6.0"/>
<circle cx="499.7" cy="641.7" r="6.0"/>
<circle cx="742.3" cy="582.2" r="6.0"/>
<circle cx="800.5" cy="608.9" r="6.0"/>
<circle cx="845.7" cy="579.3" r="6.0"/>
<circle cx="883.1" cy="581.4" r="6.0"/>
<circle cx="890.0" cy="583.7" r="6.0"/>
<circle cx="872.9" cy="593.5" r="6.0"/>
<circle cx="896.0" cy="596.4" r="6.0"/>
<circle cx="900.9" cy="605.0" r="6.0"/>
<circle cx="948.6" cy="579.6" r="6.0"/>
<circle cx="973.3" cy="596.4" r="6.0"/>
<circle cx="959.1" cy="629.3" r="6.0"/>
<circle cx="979.5" cy="627.5" r="6.0"/>
<circle cx="1000.9" cy="593.6" r="6.0"/>
<circle cx="1030.8" cy="582.0" r="6.0"/>
<circle cx="1064.4" cy="573.4" r="6.0"/>
<circle cx="1025.2" cy="611.5" r="6.0"/>
<circle cx="1019.5" cy="627.0" r="6.0"/>
<circle cx="1048.4" cy="631.4" r="6.0"/>
<circle cx="1095.1" cy="602.2" r="6.0"/>
<circle cx="1118.8" cy="620.0" r="6.0"/>
<circle cx="1150.3" cy="612.8" r="6.0"/>
<circle cx="1162.3" cy="618.6" r="6.0"/>
<circle cx="1210.6" cy="591.3" r="6.0"/>
<circle cx="1244.5" cy="626.8" r="6.0"/>
</g>
<g fill="none" stroke="#7CAE00" stroke-opacity="0.27" stroke-width="2.0">
<circle cx="347.7" cy="561.0" r="5.00"/>
<circle cx="350.8" cy="568.3" r="5.00"/>
<circle cx="371.6" cy="570.0" r="5.00"/>
<circle cx="371.6" cy="570.0" r="5.00"/>
<circle cx="346.2" cy="578.8" r="5.00"/>
<circle cx="355.5" cy="581.0" r="5.00"/>
<circle cx="371.1" cy="579.6" r="5.00"/>
<circle cx="375.7" cy="585.0" r="5.00"/>
<circle cx="339.4" cy="585.5" r="5.00"/>
<circle cx="336.4" cy="591.0" r="5.00"/>
<circle cx="359.6" cy="591.0" r="5.00"/>
<circle cx="388.9" cy="591.0" r="5.00"/>
<circle cx="387.2" cy="597.1" r="5.00"/>
<circle cx="315.2" cy="596.5" r="5.00"/>
<circle cx="366.9" cy="603.7" r="5.00"/>
<circle cx="333.3" cy="607.0" r="5.00"/>
<circle cx="340.3" cy="616.0" r="5.00"/>
<circle cx="399.0" cy="616.9" r="5.00"/>
<circle cx="385.5" cy="622.3" r="5.00"/>
<circle cx="338.4" cy="624.5" r="5.00"/>
<circle cx="392.2" cy="632.4" r="5.00"/>
<circle cx="393.1" cy="632.9" r="5.00"/>
<circle cx="420.2" cy="632.4" r="5.00"/>
<circle cx="445.2" cy="632.4" r="5.00"/>
<circle cx="445.2" cy="632.4" r="5.00"/>
<circle cx="330.5" cy="634.6" r="5.00"/>
<circle cx="354.5" cy="640.9" r="5.00"/>
<circle cx="381.6" cy="641.4" r="5.00"/>
<circle cx="387.7" cy="642.2" r="5.00"/>
<circle cx="397.8" cy="641.4" r="5.00"/>
<circle cx="460.0" cy="564.4" r="5.00"/>
<circle cx="485.3" cy="561.5" r="5.00"/>
<circle cx="487.9" cy="569.5" r="5.00"/>
<circle cx="499.7" cy="641.7" r="5.00"/>
<circle cx="742.3" cy="582.2" r="5.00"/>
<circle cx="800.5" cy="608.9" r="5.00"/>
<circle cx="845.7" cy="579.3" r="5.00"/>
<circle cx="883.1" cy="581.4" r="5.00"/>
<circle cx="890.0" cy="583.7" r="5.00"/>
<circle cx="872.9" cy="593.5" r="5.00"/>
<circle cx="896.0" cy="596.4" r="5.00"/>
<circle cx="900.9" cy="605.0" r="5.00"/>
<circle cx="948.6" cy="579.6" r="5.00"/>
<circle cx="973.3" cy="596.4" r="5.00"/>
<circle cx="959.1" cy="629.3" r="5.00"/>
<circle cx="979.5" cy="627.5" r="5.00"/>
<circle cx="1000.9" cy="593.6" r="5.00"/>
<circle cx="1030.8" cy="582.0" r="5.00"/>
<circle cx="1064.4" cy="573.4" r="5.00"/>
<circle cx="1025.2" cy="611.5" r="5.00"/>
<circle cx="1019.5" cy="627.0" r="5.00"/>
<circle cx="1048.4" cy="631.4" r="5.00"/>
<circle cx="1095.1" cy="602.2" r="5.00"/>
<circle cx="1118.8" cy="620.0" r="5.00"/>
<circle cx="1150.3" cy="612.8" r="5.00"/>
<circle cx="1162.3" cy="618.6" r="5.00"/>
<circle cx="1210.6" cy="591.3" r="5.00"/>
<circle cx="1244.5" cy="626.8" r="5.00"/>
</g>
<g fill="#CD9600" fill-opacity="0.27">
<circle cx="332.2" cy="670.6" r="6.0"/>
<circle cx="321.7" cy="682.8" r="6.0"/>
<circle cx="317.6" cy="699.9" r="6.0"/>
<circle cx="317.6" cy="718.6" r="6.0"/>
<circle cx="350.4" cy="666.7" r="6.0"/>
<circle cx="359.2" cy="667.9" r="6.0"/>
<circle cx="349.2" cy="672.6" r="6.0"/>
<circle cx="353.3" cy="679.0" r="6.0"/>
<circle cx="358.6" cy="672.0" r="6.0"/>
<circle cx="360.9" cy="676.1" r="6.0"/>
<circle cx="338.7" cy="679.6" r="6.0"/>
<circle cx="338.7" cy="682.0" r="6.0"/>
<circle cx="337.5" cy="687.2" r="6.0"/>
<circle cx="344.5" cy="692.5" r="6.0"/>
<circle cx="352.2" cy="691.9" r="6.0"/>
<circle cx="358.6" cy="692.5" r="6.0"/>
<circle cx="342.2" cy="697.8" r="6.0"/>
<circle cx="335.7" cy="702.5" r="6.0"/>
<circle cx="363.3" cy="700.7" r="6.0"/>
<circle cx="334.0" cy="709.5" r="6.0"/>
<circle cx="329.9" cy="718.9" r="6.0"/>
<circle cx="339.8" cy="720.0" r="6.0"/>
<circle cx="332.2" cy="728.8" r="6.0"/>
<circle cx="367.4" cy="686.1" r="6.0"/>
<circle cx="369.1" cy="686.6" r="6.0"/>
<circle cx="380.6" cy="683.7" r="6.0"/>
<circle cx="389.1" cy="688.4" r="6.0"/>
<circle cx="383.8" cy="690.2" r="6.0"/>
<circle cx="373.8" cy="707.2" r="6.0"/>
<circle cx="376.2" cy="707.7" r="6.0"/>
<circle cx="383.2" cy="713.0" r="6.0"/>
<circle cx="373.6" cy="725.1" r="6.0"/>
<circle cx="356.3" cy="730.6" r="6.0"/>
<circle cx="356.8" cy="732.3" r="6.0"/>
<circle cx="363.9" cy="732.3" r="6.0"/>
<circle cx="365.6" cy="737.0" r="6.0"/>
<circle cx="373.8" cy="737.0" r="6.0"/>
<circle cx="374.4" cy="741.1" r="6.0"/>
<circle cx="369.7" cy="745.2" r="6.0"/>
<circle cx="375.0" cy="745.2" r="6.0"/>
<circle cx="343.4" cy="737.0" r="6.0"/>
<circle cx="335.2" cy="741.7" r="6.0"/>
<circle cx="332.8" cy="744.1" r="6.0"/>
<circle cx="339.8" cy="748.8" r="6.0"/>
<circle cx="331.6" cy="747.6" r="6.0"/>
<circle cx="345.7" cy="744.1" r="6.0"/>
<circle cx="338.1" cy="741.1" r="6.0"/>
<circle cx="429.5" cy="671.4" r="6.0"/>
<circle cx="423.6" cy="677.3" r="6.0"/>
<circle cx="426.6" cy="683.1" r="6.0"/>
<circle cx="443.0" cy="670.8" r="6.0"/>
<circle cx="446.5" cy="673.8" r="6.0"/>
<circle cx="450.6" cy="679.0" r="6.0"/>
<circle cx="445.3" cy="694.6" r="6.0"/>
<circle cx="452.9" cy="703.0" r="6.0"/>
<circle cx="455.9" cy="671.4" r="6.0"/>
<circle cx="457.6" cy="685.5" r="6.0"/>
<circle cx="471.1" cy="673.8" r="6.0"/>
<circle cx="464.1" cy="681.4" r="6.0"/>
<circle cx="473.4" cy="680.2" r="6.0"/>
<circle cx="462.9" cy="694.3" r="6.0"/>
<circle cx="473.4" cy="695.4" r="6.0"/>
<circle cx="479.3" cy="690.2" r="6.0"/>
<circle cx="407.8" cy="718.3" r="6.0"/>
<circle cx="413.7" cy="721.8" r="6.0"/>
<circle cx="422.5" cy="726.7" r="6.0"/>
<circle cx="415.4" cy="731.8" r="6.0"/>
<circle cx="428.3" cy="717.1" r="6.0"/>
<circle cx="447.1" cy="730.6" r="6.0"/>
<circle cx="432.4" cy="748.2" r="6.0"/>
<circle cx="464.7" cy="741.7" r="6.0"/>
<circle cx="471.7" cy="746.4" r="6.0"/>
<circle cx="475.8" cy="728.8" r="6.0"/>
<circle cx="479.3" cy="720.6" r="6.0"/>
<circle cx="479.3" cy="708.3" r="6.0"/>
<circle cx="499.3" cy="676.7" r="6.0"/>
<circle cx="502.2" cy="674.9" r="6.0"/>
<circle cx="516.6" cy="670.2" r="6.0"/>
<circle cx="484.6" cy="708.3" r="6.0"/>
<circle cx="491.1" cy="716.5" r="6.0"/>
<circle cx="492.9" cy="724.7" r="6.0"/>
<circle cx="505.7" cy="723.0" r="6.0"/>
<circle cx="515.5" cy="712.1" r="6.0"/>
<circle cx="499.9" cy="747.6" r="6.0"/>
<circle cx="499.9" cy="747.6" r="6.0"/>
<circle cx="594.6" cy="698.0" r="6.0"/>
<circle cx="700.9" cy="742.7" r="6.0"/>
<circle cx="750.3" cy="714.9" r="6.0"/>
<circle cx="779.6" cy="721.2" r="6.0"/>
<circle cx="784.4" cy="725.2" r="6.0"/>
<circle cx="808.3" cy="670.0" r="6.0"/>
<circle cx="837.7" cy="689.1" r="6.0"/>
<circle cx="822.2" cy="704.1" r="6.0"/>
<circle cx="829.1" cy="712.3" r="6.0"/>
<circle cx="816.5" cy="724.0" r="6.0"/>
<circle cx="827.9" cy="735.2" r="6.0"/>
<circle cx="874.9" cy="667.7" r="6.0"/>
<circle cx="891.5" cy="685.6" r="6.0"/>
<circle cx="917.1" cy="665.9" r="6.0"/>
<circle cx="942.8" cy="676.5" r="6.0"/>
<circle cx="955.8" cy="671.3" r="6.0"/>
<circle cx="967.5" cy="666.7" r="6.0"/>
<circle cx="1049.1" cy="679.7" r="6.0"/>
<circle cx="1062.9" cy="677.8" r="6.0"/>
<circle cx="1087.1" cy="691.6" r="6.0"/>
<circle cx="934.6" cy="706.8" r="6.0"/>
<circle cx="940.8" cy="713.9" r="6.0"/>
<circle cx="923.2" cy="721.7" r="6.0"/>
<circle cx="964.7" cy="725.0" r="6.0"/>
<circle cx="928.9" cy="743.2" r="6.0"/>
<circle cx="940.7" cy="744.0" r="6.0"/>
<circle cx="991.3" cy="745.0" r="6.0"/>
<circle cx="1031.5" cy="729.1" r="6.0"/>
<circle cx="1044.5" cy="722.9" r="6.0"/>
<circle cx="1064.5" cy="729.5" r="6.0"/>
<circle cx="1070.5" cy="725.5" r="6.0"/>
<circle cx="1076.2" cy="747.8" r="6.0"/>
<circle cx="1099.8" cy="712.5" r="6.0"/>
<circle cx="1110.6" cy="672.6" r="6.0"/>
<circle cx="1147.7" cy="675.8" r="6.0"/>
<circle cx="1155.8" cy="688.2" r="6.0"/>
<circle cx="1142.1" cy="694.7" r="6.0"/>
<circle cx="1103.3" cy="712.3" r="6.0"/>
<circle cx="1116.0" cy="712.6" r="6.0"/>
<circle cx="1162.0" cy="708.4" r="6.0"/>
<circle cx="1149.6" cy="724.7" r="6.0"/>
<circle cx="1193.8" cy="709.9" r="6.0"/>
<circle cx="1235.2" cy="690.2" r="6.0"/>
<circle cx="1463.9" cy="681.2" r="6.0"/>
</g>
<g fill="none" stroke="#CD9600" stroke-opacity="0.27" stroke-width="2.0">
<circle cx="332.2" cy="670.6" r="5.00"/>
<circle cx="321.7" cy="682.8" r="5.00"/>
<circle cx="317.6" cy="699.9" r="5.00"/>
<circle cx="317.6" cy="718.6" r="5.00"/>
<circle cx="350.4" cy="666.7" r="5.00"/>
<circle cx="359.2" cy="667.9" r="5.00"/>
<circle cx="349.2" cy="672.6" r="5.00"/>
<circle cx="353.3" cy="679.0" r="5.00"/>
<circle cx="358.6" cy="672.0" r="5.00"/>
<circle cx="360.9" cy="676.1" r="5.00"/>
<circle cx="338.7" cy="679.6" r="5.00"/>
<circle cx="338.7" cy="682.0" r="5.00"/>
<circle cx="337.5" cy="687.2" r="5.00"/>
<circle cx="344.5" cy="692.5" r="5.00"/>
<circle cx="352.2" cy="691.9" r="5.00"/>
<circle cx="358.6" cy="692.5" r="5.00"/>
<circle cx="342.2" cy="697.8" r="5.00"/>
<circle cx="335.7" cy="702.5" r="5.00"/>
<circle cx="363.3" cy="700.7" r="5.00"/>
<circle cx="334.0" cy="709.5" r="5.00"/>
<circle cx="329.9" cy="718.9" r="5.00"/>
<circle cx="339.8" cy="720.0" r="5.00"/>
<circle cx="332.2" cy="728.8" r="5.00"/>
<circle cx="367.4" cy="686.1" r="5.00"/>
<circle cx="369.1" cy="686.6" r="5.00"/>
<circle cx="380.6" cy="683.7" r="5.00"/>
<circle cx="389.1" cy="688.4" r="5.00"/>
<circle cx="383.8" cy="690.2" r="5.00"/>
<circle cx="373.8" cy="707.2" r="5.00"/>
<circle cx="376.2" cy="707.7" r="5.00"/>
<circle cx="383.2" cy="713.0" r="5.00"/>
<circle cx="373.6" cy="725.1" r="5.00"/>
<circle cx="356.3" cy="730.6" r="5.00"/>
<circle cx="356.8" cy="732.3" r="5.00"/>
<circle cx="363.9" cy="732.3" r="5.00"/>
<circle cx="365.6" cy="737.0" r="5.00"/>
<circle cx="373.8" cy="737.0" r="5.00"/>
<circle cx="374.4" cy="741.1" r="5.00"/>
<circle cx="369.7" cy="745.2" r="5.00"/>
<circle cx="375.0" cy="745.2" r="5.00"/>
<circle cx="343.4" cy="737.0" r="5.00"/>
<circle cx="335.2" cy="741.7" r="5.00"/>
<circle cx="332.8" cy="744.1" r="5.00"/>
<circle cx="339.8" cy="748.8" r="5.00"/>
<circle cx="331.6" cy="747.6" r="5.00"/>
<circle cx="345.7" cy="744.1" r="5.00"/>
<circle cx="338.1" cy="741.1" r="5.00"/>
<circle cx="429.5" cy="671.4" r="5.00"/>
<circle cx="423.6" cy="677.3" r="5.00"/>
<circle cx="426.6" cy="683.1" r="5.00"/>
<circle cx="443.0" cy="670.8" r="5.00"/>
<circle cx="446.5" cy="673.8" r="5.00"/>
<circle cx="450.6" cy="679.0" r="5.00"/>
<circle cx="445.3" cy="694.6" r="5.00"/>
<circle cx="452.9" cy="703.0" r="5.00"/>
<circle cx="455.9" cy="671.4" r="5.00"/>
<circle cx="457.6" cy="685.5" r="5.00"/>
<circle cx="471.1" cy="673.8" r="5.00"/>
<circle cx="464.1" cy="681.4" r="5.00"/>
<circle cx="473.4" cy="680.2" r="5.00"/>
<circle cx="462.9" cy="694.3" r="5.00"/>
<circle cx="473.4" cy="695.4" r="5.00"/>
<circle cx="479.3" cy="690.2" r="5.00"/>
<circle cx="407.8" cy="718.3" r="5.00"/>
<circle cx="413.7" cy="721.8" r="5.00"/>
<circle cx="422.5" cy="726.7" r="5.00"/>
<circle cx="415.4" cy="731.8" r="5.00"/>
<circle cx="428.3" cy="717.1" r="5.00"/>
<circle cx="447.1" cy="730.6" r="5.00"/>
<circle cx="432.4" cy="748.2" r="5.00"/>
<circle cx="464.7" cy="741.7" r="5.00"/>
<circle cx="471.7" cy="746.4" r="5.00"/>
<circle cx="475.8" cy="728.8" r="5.00"/>
<circle cx="479.3" cy="720.6" r="5.00"/>
<circle cx="479.3" cy="708.3" r="5.00"/>
<circle cx="499.3" cy="676.7" r="5.00"/>
<circle cx="502.2" cy="674.9" r="5.00"/>
<circle cx="516.6" cy="670.2" r="5.00"/>
<circle cx="484.6" cy="708.3" r="5.00"/>
<circle cx="491.1" cy="716.5" r="5.00"/>
<circle cx="492.9" cy="724.7" r="5.00"/>
<circle cx="505.7" cy="723.0" r="5.00"/>
<circle cx="515.5" cy="712.1" r="5.00"/>
<circle cx="499.9" cy="747.6" r="5.00"/>
<circle cx="499.9" cy="747.6" r="5.00"/>
<circle cx="594.6" cy="698.0" r="5.00"/>
<circle cx="700.9" cy="742.7" r="5.00"/>
<circle cx="750.3" cy="714.9" r="5.00"/>
<circle cx="779.6" cy="721.2" r="5.00"/>
<circle cx="784.4" cy="725.2" r="5.00"/>
<circle cx="808.3" cy="670.0" r="5.00"/>
<circle cx="837.7" cy="689.1" r="5.00"/>
<circle cx="822.2" cy="704.1" r="5.00"/>
<circle cx="829.1" cy="712.3" r="5.00"/>
<circle cx="816.5" cy="724.0" r="5.00"/>
<circle cx="827.9" cy="735.2" r="5.00"/>
<circle cx="874.9" cy="667.7" r="5.00"/>
<circle cx="891.5" cy="685.6" r="5.00"/>
<circle cx="917.1" cy="665.9" r="5.00"/>
<circle cx="942.8" cy="676.5" r="5.00"/>
<circle cx="955.8" cy="671.3" r="5.00"/>
<circle cx="967.5" cy="666.7" r="5.00"/>
<circle cx="1049.1" cy="679.7" r="5.00"/>
<circle cx="1062.9" cy="677.8" r="5.00"/>
<circle cx="1087.1" cy="691.6" r="5.00"/>
<circle cx="934.6" cy="706.8" r="5.00"/>
<circle cx="940.8" cy="713.9" r="5.00"/>
<circle cx="923.2" cy="721.7" r="5.00"/>
<circle cx="964.7" cy="725.0" r="5.00"/>
<circle cx="928.9" cy="743.2" r="5.00"/>
<circle cx="940.7" cy="744.0" r="5.00"/>
<circle cx="991.3" cy="745.0" r="5.00"/>
<circle cx="1031.5" cy="729.1" r="5.00"/>
<circle cx="1044.5" cy="722.9" r="5.00"/>
<circle cx="1064.5" cy="729.5" r="5.00"/>
<circle cx="1070.5" cy="725.5" r="5.00"/>
<circle cx="1076.2" cy="747.8" r="5.00"/>
<circle cx="1099.8" cy="712.5" r="5.00"/>
<circle cx="1110.6" cy="672.6" r="5.00"/>
<circle cx="1147.7" cy="675.8" r="5.00"/>
<circle cx="1155.8" cy="688.2" r="5.00"/>
<circle cx="1142.1" cy="694.7" r="5.00"/>
<circle cx="1103.3" cy="712.3" r="5.00"/>
<circle cx="1116.0" cy="712.6" r="5.00"/>
<circle cx="1162.0" cy="708.4" r="5.00"/>
<circle cx="1149.6" cy="724.7" r="5.00"/>
<circle cx="1193.8" cy="709.9" r="5.00"/>
<circle cx="1235.2" cy="690.2" r="5.00"/>
<circle cx="1463.9" cy="681.2" r="5.00"/>
</g>
<g fill="#F8766D" fill-opacity="0.27">
<circle cx="368.6" cy="788.6" r="6.0"/>
<circle cx="743.9" cy="776.6" r="6.0"/>
<circle cx="1162.3" cy="779.9" r="6.0"/>
<circle cx="1207.7" cy="817.5" r="6.0"/>
</g>
<g fill="none" stroke="#F8766D" stroke-opacity="0.27" stroke-width="2.0">
<circle cx="368.6" cy="788.6" r="5.00"/>
<circle cx="743.9" cy="776.6" r="5.00"/>
<circle cx="1162.3" cy="779.9" r="5.00"/>
<circle cx="1207.7" cy="817.5" r="5.00"/>
</g>
<line x1="250.67" y1="77.7" x2="258" y2="77.7" stroke="#333333" stroke-width="2.84"/>
<line x1="250.67" y1="182.7" x2="258" y2="182.7" stroke="#333333" stroke-width="2.84"/>
<line x1="250.67" y1="287.7" x2="258" y2="287.7" stroke="#333333" stroke-width="2.84"/>
<line x1="250.67" y1="392.7" x2="258" y2="392.7" stroke="#333333" stroke-width="2.84"/>
<line x1="250.67" y1="497.7" x2="258" y2="497.7" stroke="#333333" stroke-width="2.84"/>
<line x1="250.67" y1="602.7" x2="258" y2="602.7" stroke="#333333" stroke-width="2.84"/>
<line x1="250.67" y1="707.7" x2="258" y2="707.7" stroke="#333333" stroke-width="2.84"/>
<line x1="250.67" y1="812.7" x2="258" y2="812.7" stroke="#333333" stroke-width="2.84"/>
<line x1="311.70" y1="875.8" x2="311.70" y2="883.13" stroke="#333333" stroke-width="2.84"/>
<line x1="618.60" y1="875.8" x2="618.60" y2="883.13" stroke="#333333" stroke-width="2.84"/>
<line x1="925.50" y1="875.8" x2="925.50" y2="883.13" stroke="#333333" stroke-width="2.84"/>
<line x1="1232.40" y1="875.8" x2="1232.40" y2="883.13" stroke="#333333" stroke-width="2.84"/>
<text x="244.8" y="87.1" text-anchor="end" class="t">White not Hispanic</text>
<text x="244.8" y="192.1" text-anchor="end" class="t">Other</text>
<text x="244.8" y="297.1" text-anchor="end" class="t">Native Hawaiian</text>
<text x="244.8" y="402.1" text-anchor="end" class="t">Multi Race</text>
<text x="244.8" y="507.1" text-anchor="end" class="t">Hispanic</text>
<text x="244.8" y="612.1" text-anchor="end" class="t">Black</text>
<text x="244.8" y="717.1" text-anchor="end" class="t">Asian</text>
<text x="244.8" y="822.1" text-anchor="end" class="t">American Indian</text>
<text x="311.70" y="905.7" text-anchor="middle" class="t">0</text>
<text x="618.60" y="905.7" text-anchor="middle" class="t">20000</text>
<text x="925.50" y="905.7" text-anchor="middle" class="t">40000</text>
<text x="1232.40" y="905.7" text-anchor="middle" class="t">60000</text>
<text x="889.5" y="940.3" text-anchor="middle" class="ti">Annual Expenditures ($)</text>
<text transform="translate(35.2,445.3) rotate(-90)" x="0" y="0" text-anchor="middle" class="ti">Race and ethnicity</text>
</svg>
</body></html>
